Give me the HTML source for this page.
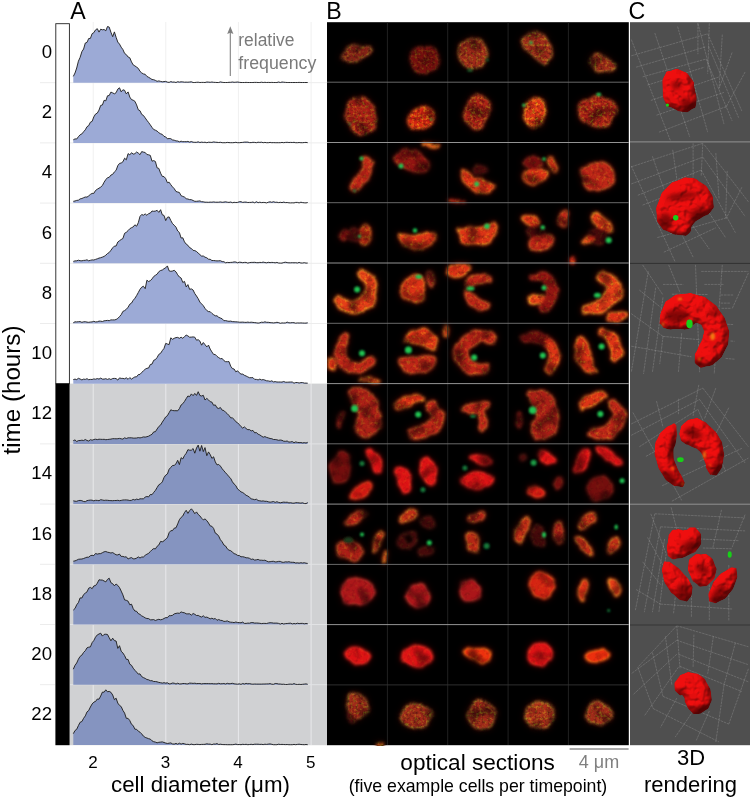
<!DOCTYPE html>
<html lang="en"><head><meta charset="utf-8"><title>Figure</title>
<style>html,body{margin:0;padding:0;background:#fff}body{width:750px;height:801px;position:relative;overflow:hidden;font-family:"Liberation Sans",Arial,sans-serif}</style>
</head><body>
<svg width="750" height="801" viewBox="0 0 750 801" style="position:absolute;left:0;top:0">
<defs><clipPath id="cc1_2"><rect x="387.4" y="142.5" width="60.4" height="60.3"/></clipPath>
<clipPath id="cc2_2"><rect x="447.7" y="142.5" width="60.4" height="60.3"/></clipPath>
<clipPath id="cc3_3"><rect x="508.1" y="202.7" width="60.4" height="60.3"/></clipPath>
<clipPath id="cc4_3"><rect x="568.4" y="202.7" width="60.4" height="60.3"/></clipPath>
<clipPath id="cc2_4"><rect x="447.7" y="263.0" width="60.4" height="60.3"/></clipPath>
<clipPath id="cc4_4"><rect x="568.4" y="263.0" width="60.4" height="60.3"/></clipPath>
<clipPath id="cc0_5"><rect x="327.0" y="323.3" width="60.4" height="60.3"/></clipPath>
<clipPath id="cc1_5"><rect x="387.4" y="323.3" width="60.4" height="60.3"/></clipPath>
<clipPath id="cc0_8"><rect x="327.0" y="504.1" width="60.4" height="60.3"/></clipPath>
<clipPath id="cc0_11"><rect x="327.0" y="684.9" width="60.4" height="60.3"/></clipPath>
<clipPath id="panelB"><rect x="327" y="22" width="301.8" height="723.2"/></clipPath>
<filter id="fxhi" x="327" y="22" width="302" height="724" filterUnits="userSpaceOnUse" color-interpolation-filters="sRGB">
<feTurbulence type="fractalNoise" baseFrequency="0.07" numOctaves="2" seed="11" result="w"/>
<feDisplacementMap in="SourceGraphic" in2="w" scale="7" xChannelSelector="R" yChannelSelector="G" result="sg"/>
<feGaussianBlur in="sg" stdDeviation="1.4" result="b"/>
<feGaussianBlur in="sg" stdDeviation="3.4" result="halo0"/>
<feColorMatrix in="halo0" type="matrix" values="0.7 0 0 0 0  0 0.12 0 0 0  0 0 0.1 0 0  0 0 0 0.75 0" result="halo"/>
<feGaussianBlur in="sg" stdDeviation="1.9" result="a2"/>
<feComponentTransfer in="a2" result="inner"><feFuncA type="linear" slope="3.0" intercept="-1.6"/></feComponentTransfer>
<feColorMatrix in="b" type="matrix" values="0.95 0 0 0 0  0 0.45 0 0 0  0 0 0.6 0 0  0 0 0 1 0" result="core"/>
<feComposite in="core" in2="inner" operator="in" result="coreIn"/>
<feMerge result="m"><feMergeNode in="halo"/><feMergeNode in="b"/><feMergeNode in="coreIn"/></feMerge>
<feTurbulence type="fractalNoise" baseFrequency="0.34" numOctaves="2" seed="3" result="n"/>
<feColorMatrix in="n" type="matrix" values="0.90 0 0 0 0.50  0.90 0 0 0 0.50  0.90 0 0 0 0.50  0 0 0 0 1" result="lum"/>
<feComposite in="m" in2="lum" operator="arithmetic" k1="1" k2="0" k3="0" k4="0" result="ml0"/>
<feTurbulence type="fractalNoise" baseFrequency="0.075" numOctaves="1" seed="21" result="n2"/>
<feColorMatrix in="n2" type="matrix" values="1.9 0 0 0 0.0  1.9 0 0 0 -0.08  1.9 0 0 0 0  0 0 0 0 1" result="lum2"/>
<feComposite in="ml0" in2="lum2" operator="arithmetic" k1="1" k2="0" k3="0" k4="0" result="ml"/>
<feColorMatrix in="b" type="matrix" values="1 0 0 0 0  1 0 0 0 0  1 0 0 0 0  0 0 0 1 0" result="bR"/>
<feColorMatrix in="n" type="matrix" values="0 0.33 0 0 -0.16  0 1.10 0 0 -0.52  0 0 0 0 0  0 0 0 0 1" result="spk"/>
<feComposite in="bR" in2="spk" operator="arithmetic" k1="1" k2="0" k3="0" k4="0" result="spkb"/>
<feComposite in="ml" in2="spkb" operator="arithmetic" k1="0" k2="1" k3="1" k4="0" result="sum"/>
<feGaussianBlur in="sum" stdDeviation="0.45"/>
</filter>
<filter id="fxlo" x="327" y="22" width="302" height="724" filterUnits="userSpaceOnUse" color-interpolation-filters="sRGB">
<feTurbulence type="fractalNoise" baseFrequency="0.07" numOctaves="2" seed="11" result="w"/>
<feDisplacementMap in="SourceGraphic" in2="w" scale="7" xChannelSelector="R" yChannelSelector="G" result="sg"/>
<feGaussianBlur in="sg" stdDeviation="1.4" result="b"/>
<feGaussianBlur in="sg" stdDeviation="3.4" result="halo0"/>
<feColorMatrix in="halo0" type="matrix" values="0.7 0 0 0 0  0 0.12 0 0 0  0 0 0.1 0 0  0 0 0 0.75 0" result="halo"/>
<feGaussianBlur in="sg" stdDeviation="1.9" result="a2"/>
<feComponentTransfer in="a2" result="inner"><feFuncA type="linear" slope="3.0" intercept="-1.6"/></feComponentTransfer>
<feColorMatrix in="b" type="matrix" values="0.95 0 0 0 0  0 0.45 0 0 0  0 0 0.6 0 0  0 0 0 1 0" result="core"/>
<feComposite in="core" in2="inner" operator="in" result="coreIn"/>
<feMerge result="m"><feMergeNode in="halo"/><feMergeNode in="b"/><feMergeNode in="coreIn"/></feMerge>
<feTurbulence type="fractalNoise" baseFrequency="0.28" numOctaves="2" seed="7" result="n"/>
<feColorMatrix in="n" type="matrix" values="0.60 0 0 0 0.68  0.60 0 0 0 0.68  0.60 0 0 0 0.68  0 0 0 0 1" result="lum"/>
<feComposite in="m" in2="lum" operator="arithmetic" k1="1" k2="0" k3="0" k4="0" result="ml0"/>
<feTurbulence type="fractalNoise" baseFrequency="0.075" numOctaves="1" seed="21" result="n2"/>
<feColorMatrix in="n2" type="matrix" values="1.9 0 0 0 0.0  1.9 0 0 0 -0.08  1.9 0 0 0 0  0 0 0 0 1" result="lum2"/>
<feComposite in="ml0" in2="lum2" operator="arithmetic" k1="1" k2="0" k3="0" k4="0" result="ml"/>
<feColorMatrix in="b" type="matrix" values="1 0 0 0 0  1 0 0 0 0  1 0 0 0 0  0 0 0 1 0" result="bR"/>
<feColorMatrix in="n" type="matrix" values="0 0.21 0 0 -0.11  0 0.70 0 0 -0.36  0 0 0 0 0  0 0 0 0 1" result="spk"/>
<feComposite in="bR" in2="spk" operator="arithmetic" k1="1" k2="0" k3="0" k4="0" result="spkb"/>
<feComposite in="ml" in2="spkb" operator="arithmetic" k1="0" k2="1" k3="1" k4="0" result="sum"/>
<feGaussianBlur in="sum" stdDeviation="0.45"/>
</filter>
<filter id="fxsm" x="327" y="22" width="302" height="724" filterUnits="userSpaceOnUse" color-interpolation-filters="sRGB">
<feTurbulence type="fractalNoise" baseFrequency="0.07" numOctaves="2" seed="11" result="w"/>
<feDisplacementMap in="SourceGraphic" in2="w" scale="7" xChannelSelector="R" yChannelSelector="G" result="sg"/>
<feGaussianBlur in="sg" stdDeviation="1.4" result="b"/>
<feGaussianBlur in="sg" stdDeviation="3.4" result="halo0"/>
<feColorMatrix in="halo0" type="matrix" values="0.7 0 0 0 0  0 0.12 0 0 0  0 0 0.1 0 0  0 0 0 0.75 0" result="halo"/>
<feGaussianBlur in="sg" stdDeviation="1.9" result="a2"/>
<feComponentTransfer in="a2" result="inner"><feFuncA type="linear" slope="3.0" intercept="-1.6"/></feComponentTransfer>
<feColorMatrix in="b" type="matrix" values="0.95 0 0 0 0  0 0.45 0 0 0  0 0 0.6 0 0  0 0 0 1 0" result="core"/>
<feComposite in="core" in2="inner" operator="in" result="coreIn"/>
<feMerge result="m"><feMergeNode in="halo"/><feMergeNode in="b"/><feMergeNode in="coreIn"/></feMerge>
<feTurbulence type="fractalNoise" baseFrequency="0.25" numOctaves="2" seed="9" result="n"/>
<feColorMatrix in="n" type="matrix" values="0.40 0 0 0 0.80  0.40 0 0 0 0.80  0.40 0 0 0 0.80  0 0 0 0 1" result="lum"/>
<feComposite in="m" in2="lum" operator="arithmetic" k1="1" k2="0" k3="0" k4="0" result="ml0"/>
<feTurbulence type="fractalNoise" baseFrequency="0.075" numOctaves="1" seed="21" result="n2"/>
<feColorMatrix in="n2" type="matrix" values="1.9 0 0 0 0.0  1.9 0 0 0 -0.08  1.9 0 0 0 0  0 0 0 0 1" result="lum2"/>
<feComposite in="ml0" in2="lum2" operator="arithmetic" k1="1" k2="0" k3="0" k4="0" result="ml"/>
<feColorMatrix in="b" type="matrix" values="1 0 0 0 0  1 0 0 0 0  1 0 0 0 0  0 0 0 1 0" result="bR"/>
<feColorMatrix in="n" type="matrix" values="0 0.07 0 0 -0.04  0 0.25 0 0 -0.13  0 0 0 0 0  0 0 0 0 1" result="spk"/>
<feComposite in="bR" in2="spk" operator="arithmetic" k1="1" k2="0" k3="0" k4="0" result="spkb"/>
<feComposite in="ml" in2="spkb" operator="arithmetic" k1="0" k2="1" k3="1" k4="0" result="sum"/>
<feGaussianBlur in="sum" stdDeviation="0.45"/>
</filter>
<filter id="gblur" x="327" y="22" width="302" height="724" filterUnits="userSpaceOnUse"><feGaussianBlur stdDeviation="0.85"/></filter><clipPath id="panelC"><rect x="630" y="22" width="120" height="723.2"/></clipPath>
<filter id="f3d" x="630" y="22" width="120" height="724" filterUnits="userSpaceOnUse" color-interpolation-filters="sRGB">
<feTurbulence type="fractalNoise" baseFrequency="0.13" numOctaves="2" seed="4" result="t"/>
<feGaussianBlur in="SourceAlpha" stdDeviation="3.2" result="ba"/>
<feComposite in="ba" in2="t" operator="arithmetic" k1="0.55" k2="0.7" k3="0" k4="0" result="h0"/>
<feGaussianBlur in="h0" stdDeviation="0.7" result="h"/>
<feDiffuseLighting in="h" surfaceScale="6" diffuseConstant="1.2" lighting-color="#ffffff" result="lit"><feDistantLight azimuth="235" elevation="50"/></feDiffuseLighting>
<feComposite in="lit" in2="SourceGraphic" operator="arithmetic" k1="0.62" k2="0" k3="0.42" k4="0" result="sh"/>
<feComposite in="sh" in2="SourceAlpha" operator="in"/>
</filter>
<filter id="db" x="630" y="22" width="120" height="724" filterUnits="userSpaceOnUse"><feGaussianBlur stdDeviation="2"/></filter>
<filter id="yb" x="630" y="22" width="120" height="724" filterUnits="userSpaceOnUse"><feGaussianBlur stdDeviation="1.1"/></filter></defs>
<rect width="750" height="801" fill="#fff"/>
<rect x="69.5" y="383.6" width="258" height="361.6" fill="#d0d1d3"/>
<line x1="93.2" y1="22" x2="93.2" y2="383.6" stroke="#f0f0f0" stroke-width="1"/>
<line x1="93.2" y1="383.6" x2="93.2" y2="745" stroke="#e8e9eb" stroke-width="1"/>
<line x1="165.8" y1="22" x2="165.8" y2="383.6" stroke="#f0f0f0" stroke-width="1"/>
<line x1="165.8" y1="383.6" x2="165.8" y2="745" stroke="#e8e9eb" stroke-width="1"/>
<line x1="238.4" y1="22" x2="238.4" y2="383.6" stroke="#f0f0f0" stroke-width="1"/>
<line x1="238.4" y1="383.6" x2="238.4" y2="745" stroke="#e8e9eb" stroke-width="1"/>
<line x1="311.1" y1="22" x2="311.1" y2="383.6" stroke="#f0f0f0" stroke-width="1"/>
<line x1="311.1" y1="383.6" x2="311.1" y2="745" stroke="#e8e9eb" stroke-width="1"/>
<line x1="40" y1="82.7" x2="327" y2="82.7" stroke="#ececec" stroke-width="1"/>
<line x1="40" y1="142.9" x2="327" y2="142.9" stroke="#ececec" stroke-width="1"/>
<line x1="40" y1="203.1" x2="327" y2="203.1" stroke="#ececec" stroke-width="1"/>
<line x1="40" y1="263.3" x2="327" y2="263.3" stroke="#ececec" stroke-width="1"/>
<line x1="40" y1="323.5" x2="327" y2="323.5" stroke="#ececec" stroke-width="1"/>
<line x1="40" y1="443.9" x2="55" y2="443.9" stroke="#ececec" stroke-width="1"/>
<line x1="70" y1="443.9" x2="327" y2="443.9" stroke="#e2e3e5" stroke-width="1"/>
<line x1="40" y1="504.1" x2="55" y2="504.1" stroke="#ececec" stroke-width="1"/>
<line x1="70" y1="504.1" x2="327" y2="504.1" stroke="#e2e3e5" stroke-width="1"/>
<line x1="40" y1="564.3" x2="55" y2="564.3" stroke="#ececec" stroke-width="1"/>
<line x1="70" y1="564.3" x2="327" y2="564.3" stroke="#e2e3e5" stroke-width="1"/>
<line x1="40" y1="624.5" x2="55" y2="624.5" stroke="#ececec" stroke-width="1"/>
<line x1="70" y1="624.5" x2="327" y2="624.5" stroke="#e2e3e5" stroke-width="1"/>
<line x1="40" y1="684.7" x2="55" y2="684.7" stroke="#ececec" stroke-width="1"/>
<line x1="70" y1="684.7" x2="327" y2="684.7" stroke="#e2e3e5" stroke-width="1"/>
<path d="M73.3,76.4 L75.0,73.0 L76.7,68.0 L78.4,61.2 L80.1,57.4 L81.9,51.6 L83.6,49.0 L85.3,43.0 L87.0,42.4 L88.7,38.5 L90.4,38.4 L92.1,33.7 L93.8,32.7 L95.5,29.9 L97.3,28.7 L99.0,32.1 L100.7,29.2 L102.4,29.8 L104.1,29.5 L105.8,30.8 L107.5,26.5 L109.2,27.1 L110.9,32.2 L112.7,36.7 L114.4,31.9 L116.1,37.3 L117.8,42.1 L119.5,44.1 L121.2,47.2 L122.9,49.5 L124.6,53.4 L126.3,54.6 L128.1,57.0 L129.8,57.8 L131.5,61.9 L133.2,64.9 L134.9,65.9 L136.6,67.1 L138.3,68.4 L140.0,71.3 L141.7,72.9 L143.4,73.9 L145.2,74.3 L146.9,76.4 L148.6,77.3 L150.3,78.3 L152.0,79.5 L153.7,79.7 L155.4,80.4 L157.1,81.3 L158.8,80.9 L160.6,81.4 L162.3,81.8 L164.0,81.6 L165.7,81.4 L167.4,82.1 L169.1,82.4 L170.8,81.6 L172.5,82.1 L174.2,82.0 L176.0,82.5 L177.7,81.7 L179.4,82.1 L181.1,81.8 L182.8,81.9 L184.5,82.2 L186.2,82.1 L187.9,82.2 L189.6,82.0 L191.4,81.8 L193.1,82.5 L194.8,82.5 L196.5,82.3 L198.2,82.2 L199.9,82.5 L201.6,82.4 L203.3,82.4 L205.0,82.5 L206.8,82.0 L208.5,82.1 L210.2,82.3 L211.9,82.0 L213.6,82.3 L215.3,82.4 L217.0,82.5 L218.7,82.5 L220.4,81.9 L222.2,82.3 L223.9,82.5 L225.6,82.5 L227.3,82.5 L229.0,82.3 L230.7,82.3 L232.4,82.0 L234.1,82.3 L235.8,82.2 L237.6,82.0 L239.3,82.3 L241.0,82.5 L242.7,82.5 L244.4,82.5 L246.1,82.4 L247.8,82.5 L249.5,82.5 L251.2,82.5 L252.9,82.5 L254.7,82.4 L256.4,82.4 L258.1,82.5 L259.8,82.5 L261.5,82.2 L263.2,82.5 L264.9,82.3 L266.6,82.5 L268.3,82.4 L270.1,82.5 L271.8,82.4 L273.5,82.5 L275.2,82.5 L276.9,82.5 L278.6,82.0 L280.3,82.5 L282.0,82.0 L283.7,82.2 L285.5,82.4 L287.2,82.5 L288.9,82.5 L290.6,82.5 L292.3,82.5 L294.0,82.5 L295.7,82.5 L297.4,82.5 L299.1,82.4 L300.9,82.5 L302.6,82.5 L304.3,82.5 L306.0,82.5 L307.7,82.5 L307.7,82.7 L73.3,82.7 Z" fill="#9caad6"/>
<path d="M73.3,76.4 L75.0,73.0 L76.7,68.0 L78.4,61.2 L80.1,57.4 L81.9,51.6 L83.6,49.0 L85.3,43.0 L87.0,42.4 L88.7,38.5 L90.4,38.4 L92.1,33.7 L93.8,32.7 L95.5,29.9 L97.3,28.7 L99.0,32.1 L100.7,29.2 L102.4,29.8 L104.1,29.5 L105.8,30.8 L107.5,26.5 L109.2,27.1 L110.9,32.2 L112.7,36.7 L114.4,31.9 L116.1,37.3 L117.8,42.1 L119.5,44.1 L121.2,47.2 L122.9,49.5 L124.6,53.4 L126.3,54.6 L128.1,57.0 L129.8,57.8 L131.5,61.9 L133.2,64.9 L134.9,65.9 L136.6,67.1 L138.3,68.4 L140.0,71.3 L141.7,72.9 L143.4,73.9 L145.2,74.3 L146.9,76.4 L148.6,77.3 L150.3,78.3 L152.0,79.5 L153.7,79.7 L155.4,80.4 L157.1,81.3 L158.8,80.9 L160.6,81.4 L162.3,81.8 L164.0,81.6 L165.7,81.4 L167.4,82.1 L169.1,82.4 L170.8,81.6 L172.5,82.1 L174.2,82.0 L176.0,82.5 L177.7,81.7 L179.4,82.1 L181.1,81.8 L182.8,81.9 L184.5,82.2 L186.2,82.1 L187.9,82.2 L189.6,82.0 L191.4,81.8 L193.1,82.5 L194.8,82.5 L196.5,82.3 L198.2,82.2 L199.9,82.5 L201.6,82.4 L203.3,82.4 L205.0,82.5 L206.8,82.0 L208.5,82.1 L210.2,82.3 L211.9,82.0 L213.6,82.3 L215.3,82.4 L217.0,82.5 L218.7,82.5 L220.4,81.9 L222.2,82.3 L223.9,82.5 L225.6,82.5 L227.3,82.5 L229.0,82.3 L230.7,82.3 L232.4,82.0 L234.1,82.3 L235.8,82.2 L237.6,82.0 L239.3,82.3 L241.0,82.5 L242.7,82.5 L244.4,82.5 L246.1,82.4 L247.8,82.5 L249.5,82.5 L251.2,82.5 L252.9,82.5 L254.7,82.4 L256.4,82.4 L258.1,82.5 L259.8,82.5 L261.5,82.2 L263.2,82.5 L264.9,82.3 L266.6,82.5 L268.3,82.4 L270.1,82.5 L271.8,82.4 L273.5,82.5 L275.2,82.5 L276.9,82.5 L278.6,82.0 L280.3,82.5 L282.0,82.0 L283.7,82.2 L285.5,82.4 L287.2,82.5 L288.9,82.5 L290.6,82.5 L292.3,82.5 L294.0,82.5 L295.7,82.5 L297.4,82.5 L299.1,82.4 L300.9,82.5 L302.6,82.5 L304.3,82.5 L306.0,82.5 L307.7,82.5" fill="none" stroke="#1a1a1a" stroke-width="0.9" stroke-linejoin="round"/>
<path d="M73.3,139.8 L75.0,138.9 L76.7,139.0 L78.4,136.7 L80.1,134.8 L81.9,133.9 L83.6,131.7 L85.3,129.8 L87.0,126.7 L88.7,125.6 L90.4,122.2 L92.1,121.4 L93.8,116.9 L95.5,114.1 L97.3,113.1 L99.0,110.1 L100.7,105.4 L102.4,105.0 L104.1,100.3 L105.8,100.8 L107.5,95.8 L109.2,95.5 L110.9,92.1 L112.7,92.9 L114.4,93.8 L116.1,92.7 L117.8,89.1 L119.5,87.8 L121.2,91.8 L122.9,89.8 L124.6,90.3 L126.3,93.9 L128.1,91.9 L129.8,97.1 L131.5,99.6 L133.2,100.2 L134.9,101.3 L136.6,104.9 L138.3,109.8 L140.0,110.7 L141.7,114.4 L143.4,115.4 L145.2,117.9 L146.9,120.3 L148.6,122.5 L150.3,124.9 L152.0,127.4 L153.7,129.5 L155.4,130.2 L157.1,131.1 L158.8,132.7 L160.6,133.8 L162.3,134.4 L164.0,136.4 L165.7,136.9 L167.4,138.8 L169.1,138.5 L170.8,138.7 L172.5,139.9 L174.2,140.2 L176.0,140.9 L177.7,141.0 L179.4,141.8 L181.1,141.2 L182.8,141.7 L184.5,141.6 L186.2,141.7 L187.9,141.4 L189.6,142.1 L191.4,141.5 L193.1,142.2 L194.8,142.3 L196.5,142.3 L198.2,141.8 L199.9,142.5 L201.6,142.1 L203.3,142.4 L205.0,142.2 L206.8,142.7 L208.5,142.2 L210.2,142.3 L211.9,142.4 L213.6,141.9 L215.3,142.2 L217.0,142.3 L218.7,142.5 L220.4,142.3 L222.2,142.7 L223.9,142.7 L225.6,142.7 L227.3,142.4 L229.0,142.6 L230.7,142.7 L232.4,142.7 L234.1,142.6 L235.8,142.3 L237.6,142.7 L239.3,142.7 L241.0,142.5 L242.7,142.4 L244.4,142.1 L246.1,142.1 L247.8,142.1 L249.5,142.6 L251.2,142.6 L252.9,142.3 L254.7,142.4 L256.4,142.7 L258.1,142.2 L259.8,142.4 L261.5,142.2 L263.2,142.7 L264.9,142.4 L266.6,142.7 L268.3,142.7 L270.1,142.4 L271.8,142.7 L273.5,142.6 L275.2,142.7 L276.9,142.7 L278.6,142.7 L280.3,142.7 L282.0,142.4 L283.7,142.7 L285.5,142.4 L287.2,142.3 L288.9,142.5 L290.6,142.4 L292.3,142.5 L294.0,142.3 L295.7,142.7 L297.4,142.7 L299.1,142.5 L300.9,142.7 L302.6,142.7 L304.3,142.5 L306.0,142.4 L307.7,142.7 L307.7,142.9 L73.3,142.9 Z" fill="#9caad6"/>
<path d="M73.3,139.8 L75.0,138.9 L76.7,139.0 L78.4,136.7 L80.1,134.8 L81.9,133.9 L83.6,131.7 L85.3,129.8 L87.0,126.7 L88.7,125.6 L90.4,122.2 L92.1,121.4 L93.8,116.9 L95.5,114.1 L97.3,113.1 L99.0,110.1 L100.7,105.4 L102.4,105.0 L104.1,100.3 L105.8,100.8 L107.5,95.8 L109.2,95.5 L110.9,92.1 L112.7,92.9 L114.4,93.8 L116.1,92.7 L117.8,89.1 L119.5,87.8 L121.2,91.8 L122.9,89.8 L124.6,90.3 L126.3,93.9 L128.1,91.9 L129.8,97.1 L131.5,99.6 L133.2,100.2 L134.9,101.3 L136.6,104.9 L138.3,109.8 L140.0,110.7 L141.7,114.4 L143.4,115.4 L145.2,117.9 L146.9,120.3 L148.6,122.5 L150.3,124.9 L152.0,127.4 L153.7,129.5 L155.4,130.2 L157.1,131.1 L158.8,132.7 L160.6,133.8 L162.3,134.4 L164.0,136.4 L165.7,136.9 L167.4,138.8 L169.1,138.5 L170.8,138.7 L172.5,139.9 L174.2,140.2 L176.0,140.9 L177.7,141.0 L179.4,141.8 L181.1,141.2 L182.8,141.7 L184.5,141.6 L186.2,141.7 L187.9,141.4 L189.6,142.1 L191.4,141.5 L193.1,142.2 L194.8,142.3 L196.5,142.3 L198.2,141.8 L199.9,142.5 L201.6,142.1 L203.3,142.4 L205.0,142.2 L206.8,142.7 L208.5,142.2 L210.2,142.3 L211.9,142.4 L213.6,141.9 L215.3,142.2 L217.0,142.3 L218.7,142.5 L220.4,142.3 L222.2,142.7 L223.9,142.7 L225.6,142.7 L227.3,142.4 L229.0,142.6 L230.7,142.7 L232.4,142.7 L234.1,142.6 L235.8,142.3 L237.6,142.7 L239.3,142.7 L241.0,142.5 L242.7,142.4 L244.4,142.1 L246.1,142.1 L247.8,142.1 L249.5,142.6 L251.2,142.6 L252.9,142.3 L254.7,142.4 L256.4,142.7 L258.1,142.2 L259.8,142.4 L261.5,142.2 L263.2,142.7 L264.9,142.4 L266.6,142.7 L268.3,142.7 L270.1,142.4 L271.8,142.7 L273.5,142.6 L275.2,142.7 L276.9,142.7 L278.6,142.7 L280.3,142.7 L282.0,142.4 L283.7,142.7 L285.5,142.4 L287.2,142.3 L288.9,142.5 L290.6,142.4 L292.3,142.5 L294.0,142.3 L295.7,142.7 L297.4,142.7 L299.1,142.5 L300.9,142.7 L302.6,142.7 L304.3,142.5 L306.0,142.4 L307.7,142.7" fill="none" stroke="#1a1a1a" stroke-width="0.9" stroke-linejoin="round"/>
<path d="M73.3,201.3 L75.0,201.0 L76.7,200.4 L78.4,200.2 L80.1,198.9 L81.9,198.5 L83.6,197.7 L85.3,197.0 L87.0,197.1 L88.7,195.9 L90.4,194.4 L92.1,193.4 L93.8,193.4 L95.5,190.5 L97.3,189.2 L99.0,188.2 L100.7,187.1 L102.4,185.5 L104.1,182.2 L105.8,179.6 L107.5,177.7 L109.2,177.3 L110.9,175.1 L112.7,174.3 L114.4,171.9 L116.1,170.3 L117.8,165.6 L119.5,163.4 L121.2,163.0 L122.9,161.8 L124.6,158.2 L126.3,159.8 L128.1,153.6 L129.8,154.9 L131.5,152.7 L133.2,154.1 L134.9,153.7 L136.6,152.0 L138.3,153.1 L140.0,154.7 L141.7,151.6 L143.4,152.1 L145.2,152.5 L146.9,154.5 L148.6,154.8 L150.3,155.4 L152.0,161.2 L153.7,160.6 L155.4,161.5 L157.1,167.9 L158.8,168.4 L160.6,173.2 L162.3,176.4 L164.0,176.6 L165.7,178.6 L167.4,182.7 L169.1,182.2 L170.8,184.7 L172.5,186.9 L174.2,188.6 L176.0,191.5 L177.7,192.0 L179.4,192.5 L181.1,195.7 L182.8,196.4 L184.5,197.1 L186.2,198.7 L187.9,199.0 L189.6,199.6 L191.4,199.7 L193.1,200.5 L194.8,201.3 L196.5,201.3 L198.2,201.1 L199.9,200.9 L201.6,201.7 L203.3,201.8 L205.0,202.2 L206.8,202.2 L208.5,202.3 L210.2,202.1 L211.9,202.2 L213.6,201.9 L215.3,202.2 L217.0,202.2 L218.7,202.2 L220.4,201.9 L222.2,202.3 L223.9,202.1 L225.6,201.8 L227.3,202.2 L229.0,202.4 L230.7,202.0 L232.4,202.7 L234.1,202.3 L235.8,202.5 L237.6,202.4 L239.3,201.7 L241.0,201.7 L242.7,202.4 L244.4,202.1 L246.1,202.1 L247.8,202.5 L249.5,202.4 L251.2,202.4 L252.9,202.0 L254.7,202.8 L256.4,201.7 L258.1,202.7 L259.8,202.2 L261.5,202.6 L263.2,202.4 L264.9,202.5 L266.6,202.9 L268.3,202.2 L270.1,201.8 L271.8,202.3 L273.5,201.7 L275.2,202.3 L276.9,202.2 L278.6,202.6 L280.3,202.3 L282.0,202.6 L283.7,202.1 L285.5,202.6 L287.2,202.5 L288.9,202.8 L290.6,202.9 L292.3,202.8 L294.0,202.9 L295.7,202.4 L297.4,202.4 L299.1,202.9 L300.9,202.2 L302.6,202.6 L304.3,202.8 L306.0,202.9 L307.7,202.5 L307.7,203.1 L73.3,203.1 Z" fill="#9caad6"/>
<path d="M73.3,201.3 L75.0,201.0 L76.7,200.4 L78.4,200.2 L80.1,198.9 L81.9,198.5 L83.6,197.7 L85.3,197.0 L87.0,197.1 L88.7,195.9 L90.4,194.4 L92.1,193.4 L93.8,193.4 L95.5,190.5 L97.3,189.2 L99.0,188.2 L100.7,187.1 L102.4,185.5 L104.1,182.2 L105.8,179.6 L107.5,177.7 L109.2,177.3 L110.9,175.1 L112.7,174.3 L114.4,171.9 L116.1,170.3 L117.8,165.6 L119.5,163.4 L121.2,163.0 L122.9,161.8 L124.6,158.2 L126.3,159.8 L128.1,153.6 L129.8,154.9 L131.5,152.7 L133.2,154.1 L134.9,153.7 L136.6,152.0 L138.3,153.1 L140.0,154.7 L141.7,151.6 L143.4,152.1 L145.2,152.5 L146.9,154.5 L148.6,154.8 L150.3,155.4 L152.0,161.2 L153.7,160.6 L155.4,161.5 L157.1,167.9 L158.8,168.4 L160.6,173.2 L162.3,176.4 L164.0,176.6 L165.7,178.6 L167.4,182.7 L169.1,182.2 L170.8,184.7 L172.5,186.9 L174.2,188.6 L176.0,191.5 L177.7,192.0 L179.4,192.5 L181.1,195.7 L182.8,196.4 L184.5,197.1 L186.2,198.7 L187.9,199.0 L189.6,199.6 L191.4,199.7 L193.1,200.5 L194.8,201.3 L196.5,201.3 L198.2,201.1 L199.9,200.9 L201.6,201.7 L203.3,201.8 L205.0,202.2 L206.8,202.2 L208.5,202.3 L210.2,202.1 L211.9,202.2 L213.6,201.9 L215.3,202.2 L217.0,202.2 L218.7,202.2 L220.4,201.9 L222.2,202.3 L223.9,202.1 L225.6,201.8 L227.3,202.2 L229.0,202.4 L230.7,202.0 L232.4,202.7 L234.1,202.3 L235.8,202.5 L237.6,202.4 L239.3,201.7 L241.0,201.7 L242.7,202.4 L244.4,202.1 L246.1,202.1 L247.8,202.5 L249.5,202.4 L251.2,202.4 L252.9,202.0 L254.7,202.8 L256.4,201.7 L258.1,202.7 L259.8,202.2 L261.5,202.6 L263.2,202.4 L264.9,202.5 L266.6,202.9 L268.3,202.2 L270.1,201.8 L271.8,202.3 L273.5,201.7 L275.2,202.3 L276.9,202.2 L278.6,202.6 L280.3,202.3 L282.0,202.6 L283.7,202.1 L285.5,202.6 L287.2,202.5 L288.9,202.8 L290.6,202.9 L292.3,202.8 L294.0,202.9 L295.7,202.4 L297.4,202.4 L299.1,202.9 L300.9,202.2 L302.6,202.6 L304.3,202.8 L306.0,202.9 L307.7,202.5" fill="none" stroke="#1a1a1a" stroke-width="0.9" stroke-linejoin="round"/>
<path d="M73.3,261.4 L75.0,260.9 L76.7,260.8 L78.4,260.2 L80.1,260.7 L81.9,260.8 L83.6,260.4 L85.3,260.3 L87.0,259.8 L88.7,260.8 L90.4,260.3 L92.1,259.9 L93.8,260.0 L95.5,259.4 L97.3,258.8 L99.0,258.1 L100.7,257.7 L102.4,257.1 L104.1,256.4 L105.8,255.2 L107.5,253.5 L109.2,252.5 L110.9,250.3 L112.7,247.8 L114.4,246.1 L116.1,246.0 L117.8,242.0 L119.5,240.7 L121.2,239.5 L122.9,238.5 L124.6,233.3 L126.3,232.3 L128.1,230.6 L129.8,228.7 L131.5,227.7 L133.2,226.9 L134.9,224.8 L136.6,226.2 L138.3,222.7 L140.0,216.4 L141.7,214.5 L143.4,215.2 L145.2,213.9 L146.9,215.3 L148.6,213.6 L150.3,213.1 L152.0,211.0 L153.7,211.3 L155.4,211.1 L157.1,210.3 L158.8,212.4 L160.6,209.7 L162.3,214.8 L164.0,215.4 L165.7,220.6 L167.4,217.3 L169.1,216.9 L170.8,220.5 L172.5,223.6 L174.2,225.2 L176.0,227.2 L177.7,231.0 L179.4,232.5 L181.1,238.0 L182.8,237.8 L184.5,241.9 L186.2,244.1 L187.9,245.3 L189.6,247.6 L191.4,248.5 L193.1,250.4 L194.8,250.6 L196.5,251.5 L198.2,253.1 L199.9,254.6 L201.6,256.1 L203.3,256.0 L205.0,257.2 L206.8,257.8 L208.5,259.2 L210.2,259.3 L211.9,260.5 L213.6,260.5 L215.3,260.7 L217.0,260.9 L218.7,260.8 L220.4,260.7 L222.2,261.6 L223.9,261.7 L225.6,262.8 L227.3,262.4 L229.0,262.6 L230.7,262.4 L232.4,262.3 L234.1,261.9 L235.8,262.0 L237.6,262.8 L239.3,262.2 L241.0,262.3 L242.7,262.7 L244.4,262.4 L246.1,262.4 L247.8,263.1 L249.5,262.6 L251.2,262.4 L252.9,262.4 L254.7,262.3 L256.4,262.6 L258.1,262.7 L259.8,262.4 L261.5,262.5 L263.2,262.1 L264.9,262.5 L266.6,262.8 L268.3,262.3 L270.1,262.6 L271.8,262.4 L273.5,262.5 L275.2,262.8 L276.9,262.4 L278.6,263.0 L280.3,263.1 L282.0,263.1 L283.7,262.5 L285.5,262.2 L287.2,262.6 L288.9,262.8 L290.6,262.8 L292.3,262.7 L294.0,262.8 L295.7,262.7 L297.4,263.0 L299.1,262.4 L300.9,263.0 L302.6,263.0 L304.3,262.7 L306.0,263.1 L307.7,263.0 L307.7,263.3 L73.3,263.3 Z" fill="#9caad6"/>
<path d="M73.3,261.4 L75.0,260.9 L76.7,260.8 L78.4,260.2 L80.1,260.7 L81.9,260.8 L83.6,260.4 L85.3,260.3 L87.0,259.8 L88.7,260.8 L90.4,260.3 L92.1,259.9 L93.8,260.0 L95.5,259.4 L97.3,258.8 L99.0,258.1 L100.7,257.7 L102.4,257.1 L104.1,256.4 L105.8,255.2 L107.5,253.5 L109.2,252.5 L110.9,250.3 L112.7,247.8 L114.4,246.1 L116.1,246.0 L117.8,242.0 L119.5,240.7 L121.2,239.5 L122.9,238.5 L124.6,233.3 L126.3,232.3 L128.1,230.6 L129.8,228.7 L131.5,227.7 L133.2,226.9 L134.9,224.8 L136.6,226.2 L138.3,222.7 L140.0,216.4 L141.7,214.5 L143.4,215.2 L145.2,213.9 L146.9,215.3 L148.6,213.6 L150.3,213.1 L152.0,211.0 L153.7,211.3 L155.4,211.1 L157.1,210.3 L158.8,212.4 L160.6,209.7 L162.3,214.8 L164.0,215.4 L165.7,220.6 L167.4,217.3 L169.1,216.9 L170.8,220.5 L172.5,223.6 L174.2,225.2 L176.0,227.2 L177.7,231.0 L179.4,232.5 L181.1,238.0 L182.8,237.8 L184.5,241.9 L186.2,244.1 L187.9,245.3 L189.6,247.6 L191.4,248.5 L193.1,250.4 L194.8,250.6 L196.5,251.5 L198.2,253.1 L199.9,254.6 L201.6,256.1 L203.3,256.0 L205.0,257.2 L206.8,257.8 L208.5,259.2 L210.2,259.3 L211.9,260.5 L213.6,260.5 L215.3,260.7 L217.0,260.9 L218.7,260.8 L220.4,260.7 L222.2,261.6 L223.9,261.7 L225.6,262.8 L227.3,262.4 L229.0,262.6 L230.7,262.4 L232.4,262.3 L234.1,261.9 L235.8,262.0 L237.6,262.8 L239.3,262.2 L241.0,262.3 L242.7,262.7 L244.4,262.4 L246.1,262.4 L247.8,263.1 L249.5,262.6 L251.2,262.4 L252.9,262.4 L254.7,262.3 L256.4,262.6 L258.1,262.7 L259.8,262.4 L261.5,262.5 L263.2,262.1 L264.9,262.5 L266.6,262.8 L268.3,262.3 L270.1,262.6 L271.8,262.4 L273.5,262.5 L275.2,262.8 L276.9,262.4 L278.6,263.0 L280.3,263.1 L282.0,263.1 L283.7,262.5 L285.5,262.2 L287.2,262.6 L288.9,262.8 L290.6,262.8 L292.3,262.7 L294.0,262.8 L295.7,262.7 L297.4,263.0 L299.1,262.4 L300.9,263.0 L302.6,263.0 L304.3,262.7 L306.0,263.1 L307.7,263.0" fill="none" stroke="#1a1a1a" stroke-width="0.9" stroke-linejoin="round"/>
<path d="M73.3,322.7 L75.0,321.8 L76.7,321.9 L78.4,321.7 L80.1,321.6 L81.9,322.3 L83.6,321.8 L85.3,321.7 L87.0,322.1 L88.7,322.3 L90.4,322.0 L92.1,321.9 L93.8,321.3 L95.5,321.9 L97.3,321.8 L99.0,321.1 L100.7,321.2 L102.4,321.5 L104.1,320.8 L105.8,320.6 L107.5,320.4 L109.2,320.7 L110.9,319.9 L112.7,319.9 L114.4,319.9 L116.1,319.5 L117.8,318.4 L119.5,316.6 L121.2,314.7 L122.9,311.4 L124.6,310.6 L126.3,309.3 L128.1,307.2 L129.8,304.2 L131.5,303.1 L133.2,300.3 L134.9,298.3 L136.6,295.6 L138.3,292.5 L140.0,289.3 L141.7,287.2 L143.4,286.2 L145.2,288.7 L146.9,280.2 L148.6,281.5 L150.3,280.7 L152.0,278.9 L153.7,276.5 L155.4,275.3 L157.1,274.2 L158.8,271.7 L160.6,270.5 L162.3,270.0 L164.0,268.7 L165.7,267.8 L167.4,265.9 L169.1,270.8 L170.8,271.3 L172.5,271.0 L174.2,270.3 L176.0,271.9 L177.7,274.8 L179.4,277.0 L181.1,278.0 L182.8,282.5 L184.5,281.4 L186.2,286.9 L187.9,284.6 L189.6,289.3 L191.4,288.9 L193.1,290.0 L194.8,293.6 L196.5,296.0 L198.2,298.7 L199.9,302.1 L201.6,303.9 L203.3,305.7 L205.0,308.4 L206.8,310.5 L208.5,311.6 L210.2,311.7 L211.9,313.4 L213.6,314.7 L215.3,315.8 L217.0,315.8 L218.7,317.3 L220.4,318.0 L222.2,318.8 L223.9,320.7 L225.6,320.6 L227.3,321.0 L229.0,321.3 L230.7,321.1 L232.4,321.6 L234.1,321.7 L235.8,321.8 L237.6,321.9 L239.3,322.2 L241.0,322.2 L242.7,322.1 L244.4,322.3 L246.1,322.4 L247.8,322.1 L249.5,322.4 L251.2,322.2 L252.9,322.4 L254.7,322.6 L256.4,322.8 L258.1,323.1 L259.8,322.8 L261.5,322.2 L263.2,322.4 L264.9,321.8 L266.6,322.3 L268.3,322.3 L270.1,322.6 L271.8,322.7 L273.5,322.9 L275.2,322.7 L276.9,322.3 L278.6,322.6 L280.3,323.3 L282.0,322.9 L283.7,323.0 L285.5,322.9 L287.2,322.1 L288.9,322.8 L290.6,322.8 L292.3,322.6 L294.0,322.7 L295.7,323.2 L297.4,322.9 L299.1,323.0 L300.9,322.9 L302.6,323.0 L304.3,323.1 L306.0,323.1 L307.7,322.8 L307.7,323.5 L73.3,323.5 Z" fill="#9caad6"/>
<path d="M73.3,322.7 L75.0,321.8 L76.7,321.9 L78.4,321.7 L80.1,321.6 L81.9,322.3 L83.6,321.8 L85.3,321.7 L87.0,322.1 L88.7,322.3 L90.4,322.0 L92.1,321.9 L93.8,321.3 L95.5,321.9 L97.3,321.8 L99.0,321.1 L100.7,321.2 L102.4,321.5 L104.1,320.8 L105.8,320.6 L107.5,320.4 L109.2,320.7 L110.9,319.9 L112.7,319.9 L114.4,319.9 L116.1,319.5 L117.8,318.4 L119.5,316.6 L121.2,314.7 L122.9,311.4 L124.6,310.6 L126.3,309.3 L128.1,307.2 L129.8,304.2 L131.5,303.1 L133.2,300.3 L134.9,298.3 L136.6,295.6 L138.3,292.5 L140.0,289.3 L141.7,287.2 L143.4,286.2 L145.2,288.7 L146.9,280.2 L148.6,281.5 L150.3,280.7 L152.0,278.9 L153.7,276.5 L155.4,275.3 L157.1,274.2 L158.8,271.7 L160.6,270.5 L162.3,270.0 L164.0,268.7 L165.7,267.8 L167.4,265.9 L169.1,270.8 L170.8,271.3 L172.5,271.0 L174.2,270.3 L176.0,271.9 L177.7,274.8 L179.4,277.0 L181.1,278.0 L182.8,282.5 L184.5,281.4 L186.2,286.9 L187.9,284.6 L189.6,289.3 L191.4,288.9 L193.1,290.0 L194.8,293.6 L196.5,296.0 L198.2,298.7 L199.9,302.1 L201.6,303.9 L203.3,305.7 L205.0,308.4 L206.8,310.5 L208.5,311.6 L210.2,311.7 L211.9,313.4 L213.6,314.7 L215.3,315.8 L217.0,315.8 L218.7,317.3 L220.4,318.0 L222.2,318.8 L223.9,320.7 L225.6,320.6 L227.3,321.0 L229.0,321.3 L230.7,321.1 L232.4,321.6 L234.1,321.7 L235.8,321.8 L237.6,321.9 L239.3,322.2 L241.0,322.2 L242.7,322.1 L244.4,322.3 L246.1,322.4 L247.8,322.1 L249.5,322.4 L251.2,322.2 L252.9,322.4 L254.7,322.6 L256.4,322.8 L258.1,323.1 L259.8,322.8 L261.5,322.2 L263.2,322.4 L264.9,321.8 L266.6,322.3 L268.3,322.3 L270.1,322.6 L271.8,322.7 L273.5,322.9 L275.2,322.7 L276.9,322.3 L278.6,322.6 L280.3,323.3 L282.0,322.9 L283.7,323.0 L285.5,322.9 L287.2,322.1 L288.9,322.8 L290.6,322.8 L292.3,322.6 L294.0,322.7 L295.7,323.2 L297.4,322.9 L299.1,323.0 L300.9,322.9 L302.6,323.0 L304.3,323.1 L306.0,323.1 L307.7,322.8" fill="none" stroke="#1a1a1a" stroke-width="0.9" stroke-linejoin="round"/>
<path d="M73.3,379.6 L75.0,379.1 L76.7,379.6 L78.4,378.3 L80.1,379.0 L81.9,379.9 L83.6,379.1 L85.3,379.4 L87.0,378.7 L88.7,379.7 L90.4,379.4 L92.1,379.5 L93.8,378.9 L95.5,379.2 L97.3,378.6 L99.0,379.1 L100.7,378.1 L102.4,379.1 L104.1,379.1 L105.8,378.7 L107.5,379.4 L109.2,378.7 L110.9,379.5 L112.7,378.5 L114.4,378.4 L116.1,378.6 L117.8,380.1 L119.5,377.9 L121.2,378.4 L122.9,378.4 L124.6,378.8 L126.3,377.8 L128.1,379.3 L129.8,377.6 L131.5,379.1 L133.2,377.9 L134.9,376.9 L136.6,376.8 L138.3,374.6 L140.0,374.4 L141.7,372.4 L143.4,370.9 L145.2,369.2 L146.9,368.3 L148.6,368.0 L150.3,364.5 L152.0,364.1 L153.7,360.3 L155.4,359.6 L157.1,357.5 L158.8,354.4 L160.6,353.3 L162.3,350.6 L164.0,348.4 L165.7,343.4 L167.4,344.0 L169.1,344.6 L170.8,337.8 L172.5,339.3 L174.2,338.3 L176.0,337.6 L177.7,337.4 L179.4,338.3 L181.1,337.2 L182.8,338.3 L184.5,336.6 L186.2,335.1 L187.9,335.9 L189.6,337.2 L191.4,337.1 L193.1,336.9 L194.8,337.2 L196.5,340.2 L198.2,339.7 L199.9,341.1 L201.6,345.2 L203.3,342.5 L205.0,344.6 L206.8,346.9 L208.5,345.1 L210.2,349.1 L211.9,351.9 L213.6,354.4 L215.3,354.5 L217.0,356.4 L218.7,357.6 L220.4,358.7 L222.2,358.5 L223.9,360.6 L225.6,361.7 L227.3,361.7 L229.0,361.6 L230.7,366.2 L232.4,368.6 L234.1,369.0 L235.8,371.8 L237.6,370.8 L239.3,372.8 L241.0,374.1 L242.7,374.1 L244.4,375.3 L246.1,376.0 L247.8,376.9 L249.5,377.7 L251.2,377.7 L252.9,377.6 L254.7,379.4 L256.4,379.4 L258.1,379.9 L259.8,379.1 L261.5,379.9 L263.2,379.6 L264.9,380.1 L266.6,380.8 L268.3,380.9 L270.1,381.4 L271.8,380.8 L273.5,381.9 L275.2,381.6 L276.9,382.0 L278.6,382.0 L280.3,382.0 L282.0,382.1 L283.7,381.5 L285.5,382.2 L287.2,382.2 L288.9,382.1 L290.6,382.0 L292.3,382.0 L294.0,383.2 L295.7,382.5 L297.4,382.5 L299.1,383.0 L300.9,382.6 L302.6,382.6 L304.3,383.1 L306.0,383.1 L307.7,383.2 L307.7,383.7 L73.3,383.7 Z" fill="#9caad6"/>
<path d="M73.3,379.6 L75.0,379.1 L76.7,379.6 L78.4,378.3 L80.1,379.0 L81.9,379.9 L83.6,379.1 L85.3,379.4 L87.0,378.7 L88.7,379.7 L90.4,379.4 L92.1,379.5 L93.8,378.9 L95.5,379.2 L97.3,378.6 L99.0,379.1 L100.7,378.1 L102.4,379.1 L104.1,379.1 L105.8,378.7 L107.5,379.4 L109.2,378.7 L110.9,379.5 L112.7,378.5 L114.4,378.4 L116.1,378.6 L117.8,380.1 L119.5,377.9 L121.2,378.4 L122.9,378.4 L124.6,378.8 L126.3,377.8 L128.1,379.3 L129.8,377.6 L131.5,379.1 L133.2,377.9 L134.9,376.9 L136.6,376.8 L138.3,374.6 L140.0,374.4 L141.7,372.4 L143.4,370.9 L145.2,369.2 L146.9,368.3 L148.6,368.0 L150.3,364.5 L152.0,364.1 L153.7,360.3 L155.4,359.6 L157.1,357.5 L158.8,354.4 L160.6,353.3 L162.3,350.6 L164.0,348.4 L165.7,343.4 L167.4,344.0 L169.1,344.6 L170.8,337.8 L172.5,339.3 L174.2,338.3 L176.0,337.6 L177.7,337.4 L179.4,338.3 L181.1,337.2 L182.8,338.3 L184.5,336.6 L186.2,335.1 L187.9,335.9 L189.6,337.2 L191.4,337.1 L193.1,336.9 L194.8,337.2 L196.5,340.2 L198.2,339.7 L199.9,341.1 L201.6,345.2 L203.3,342.5 L205.0,344.6 L206.8,346.9 L208.5,345.1 L210.2,349.1 L211.9,351.9 L213.6,354.4 L215.3,354.5 L217.0,356.4 L218.7,357.6 L220.4,358.7 L222.2,358.5 L223.9,360.6 L225.6,361.7 L227.3,361.7 L229.0,361.6 L230.7,366.2 L232.4,368.6 L234.1,369.0 L235.8,371.8 L237.6,370.8 L239.3,372.8 L241.0,374.1 L242.7,374.1 L244.4,375.3 L246.1,376.0 L247.8,376.9 L249.5,377.7 L251.2,377.7 L252.9,377.6 L254.7,379.4 L256.4,379.4 L258.1,379.9 L259.8,379.1 L261.5,379.9 L263.2,379.6 L264.9,380.1 L266.6,380.8 L268.3,380.9 L270.1,381.4 L271.8,380.8 L273.5,381.9 L275.2,381.6 L276.9,382.0 L278.6,382.0 L280.3,382.0 L282.0,382.1 L283.7,381.5 L285.5,382.2 L287.2,382.2 L288.9,382.1 L290.6,382.0 L292.3,382.0 L294.0,383.2 L295.7,382.5 L297.4,382.5 L299.1,383.0 L300.9,382.6 L302.6,382.6 L304.3,383.1 L306.0,383.1 L307.7,383.2" fill="none" stroke="#1a1a1a" stroke-width="0.9" stroke-linejoin="round"/>
<path d="M73.3,440.6 L75.0,439.9 L76.7,441.5 L78.4,440.6 L80.1,440.5 L81.9,440.2 L83.6,440.5 L85.3,439.5 L87.0,440.5 L88.7,441.0 L90.4,439.7 L92.1,440.2 L93.8,439.5 L95.5,439.2 L97.3,439.6 L99.0,439.2 L100.7,439.3 L102.4,439.4 L104.1,439.3 L105.8,439.7 L107.5,439.5 L109.2,439.3 L110.9,439.1 L112.7,438.7 L114.4,438.7 L116.1,438.8 L117.8,438.7 L119.5,438.4 L121.2,438.8 L122.9,439.1 L124.6,437.8 L126.3,438.5 L128.1,437.8 L129.8,437.8 L131.5,437.8 L133.2,438.1 L134.9,438.1 L136.6,438.0 L138.3,437.6 L140.0,437.9 L141.7,437.5 L143.4,436.9 L145.2,437.1 L146.9,436.7 L148.6,436.2 L150.3,435.2 L152.0,434.3 L153.7,431.9 L155.4,431.7 L157.1,429.0 L158.8,426.5 L160.6,425.1 L162.3,422.1 L164.0,419.6 L165.7,416.9 L167.4,415.7 L169.1,412.7 L170.8,409.8 L172.5,410.5 L174.2,410.7 L176.0,410.7 L177.7,410.8 L179.4,408.6 L181.1,405.0 L182.8,403.7 L184.5,401.4 L186.2,398.6 L187.9,396.0 L189.6,396.6 L191.4,393.9 L193.1,395.7 L194.8,393.4 L196.5,395.4 L198.2,391.7 L199.9,395.5 L201.6,396.0 L203.3,395.3 L205.0,400.0 L206.8,398.4 L208.5,399.9 L210.2,401.7 L211.9,402.1 L213.6,405.3 L215.3,404.9 L217.0,407.8 L218.7,408.5 L220.4,407.5 L222.2,410.2 L223.9,410.5 L225.6,412.3 L227.3,413.7 L229.0,415.5 L230.7,417.8 L232.4,417.9 L234.1,419.4 L235.8,421.7 L237.6,422.8 L239.3,424.5 L241.0,426.6 L242.7,428.1 L244.4,426.9 L246.1,428.5 L247.8,429.7 L249.5,429.6 L251.2,430.9 L252.9,430.4 L254.7,432.8 L256.4,432.6 L258.1,434.2 L259.8,434.9 L261.5,436.1 L263.2,437.2 L264.9,436.6 L266.6,437.4 L268.3,437.9 L270.1,438.5 L271.8,438.7 L273.5,439.5 L275.2,439.5 L276.9,439.8 L278.6,440.3 L280.3,440.0 L282.0,440.3 L283.7,441.2 L285.5,441.3 L287.2,441.0 L288.9,442.1 L290.6,441.9 L292.3,441.6 L294.0,442.7 L295.7,441.9 L297.4,442.4 L299.1,442.6 L300.9,442.5 L302.6,442.9 L304.3,442.6 L306.0,443.0 L307.7,442.3 L307.7,443.9 L73.3,443.9 Z" fill="#8594c0"/>
<path d="M73.3,440.6 L75.0,439.9 L76.7,441.5 L78.4,440.6 L80.1,440.5 L81.9,440.2 L83.6,440.5 L85.3,439.5 L87.0,440.5 L88.7,441.0 L90.4,439.7 L92.1,440.2 L93.8,439.5 L95.5,439.2 L97.3,439.6 L99.0,439.2 L100.7,439.3 L102.4,439.4 L104.1,439.3 L105.8,439.7 L107.5,439.5 L109.2,439.3 L110.9,439.1 L112.7,438.7 L114.4,438.7 L116.1,438.8 L117.8,438.7 L119.5,438.4 L121.2,438.8 L122.9,439.1 L124.6,437.8 L126.3,438.5 L128.1,437.8 L129.8,437.8 L131.5,437.8 L133.2,438.1 L134.9,438.1 L136.6,438.0 L138.3,437.6 L140.0,437.9 L141.7,437.5 L143.4,436.9 L145.2,437.1 L146.9,436.7 L148.6,436.2 L150.3,435.2 L152.0,434.3 L153.7,431.9 L155.4,431.7 L157.1,429.0 L158.8,426.5 L160.6,425.1 L162.3,422.1 L164.0,419.6 L165.7,416.9 L167.4,415.7 L169.1,412.7 L170.8,409.8 L172.5,410.5 L174.2,410.7 L176.0,410.7 L177.7,410.8 L179.4,408.6 L181.1,405.0 L182.8,403.7 L184.5,401.4 L186.2,398.6 L187.9,396.0 L189.6,396.6 L191.4,393.9 L193.1,395.7 L194.8,393.4 L196.5,395.4 L198.2,391.7 L199.9,395.5 L201.6,396.0 L203.3,395.3 L205.0,400.0 L206.8,398.4 L208.5,399.9 L210.2,401.7 L211.9,402.1 L213.6,405.3 L215.3,404.9 L217.0,407.8 L218.7,408.5 L220.4,407.5 L222.2,410.2 L223.9,410.5 L225.6,412.3 L227.3,413.7 L229.0,415.5 L230.7,417.8 L232.4,417.9 L234.1,419.4 L235.8,421.7 L237.6,422.8 L239.3,424.5 L241.0,426.6 L242.7,428.1 L244.4,426.9 L246.1,428.5 L247.8,429.7 L249.5,429.6 L251.2,430.9 L252.9,430.4 L254.7,432.8 L256.4,432.6 L258.1,434.2 L259.8,434.9 L261.5,436.1 L263.2,437.2 L264.9,436.6 L266.6,437.4 L268.3,437.9 L270.1,438.5 L271.8,438.7 L273.5,439.5 L275.2,439.5 L276.9,439.8 L278.6,440.3 L280.3,440.0 L282.0,440.3 L283.7,441.2 L285.5,441.3 L287.2,441.0 L288.9,442.1 L290.6,441.9 L292.3,441.6 L294.0,442.7 L295.7,441.9 L297.4,442.4 L299.1,442.6 L300.9,442.5 L302.6,442.9 L304.3,442.6 L306.0,443.0 L307.7,442.3" fill="none" stroke="#1a1a1a" stroke-width="0.9" stroke-linejoin="round"/>
<path d="M73.3,500.8 L75.0,501.2 L76.7,501.3 L78.4,500.6 L80.1,500.4 L81.9,500.7 L83.6,501.5 L85.3,501.7 L87.0,500.6 L88.7,500.3 L90.4,500.1 L92.1,500.2 L93.8,500.8 L95.5,500.3 L97.3,500.4 L99.0,500.7 L100.7,499.7 L102.4,500.0 L104.1,500.4 L105.8,500.2 L107.5,500.3 L109.2,500.5 L110.9,500.6 L112.7,500.7 L114.4,500.5 L116.1,500.5 L117.8,500.3 L119.5,500.7 L121.2,500.4 L122.9,500.0 L124.6,499.9 L126.3,499.9 L128.1,500.1 L129.8,500.5 L131.5,500.3 L133.2,499.4 L134.9,500.0 L136.6,499.1 L138.3,499.6 L140.0,498.8 L141.7,498.8 L143.4,498.8 L145.2,497.1 L146.9,496.5 L148.6,496.9 L150.3,494.5 L152.0,494.7 L153.7,492.4 L155.4,490.4 L157.1,487.5 L158.8,484.8 L160.6,483.7 L162.3,481.9 L164.0,477.5 L165.7,475.1 L167.4,474.0 L169.1,469.3 L170.8,467.4 L172.5,465.5 L174.2,465.4 L176.0,463.8 L177.7,460.3 L179.4,464.6 L181.1,457.7 L182.8,458.9 L184.5,455.5 L186.2,453.3 L187.9,449.7 L189.6,450.2 L191.4,450.2 L193.1,448.5 L194.8,453.2 L196.5,448.0 L198.2,445.1 L199.9,451.2 L201.6,445.5 L203.3,451.6 L205.0,447.6 L206.8,455.7 L208.5,451.9 L210.2,454.5 L211.9,458.4 L213.6,456.8 L215.3,461.9 L217.0,464.9 L218.7,464.4 L220.4,466.1 L222.2,468.8 L223.9,470.8 L225.6,472.8 L227.3,474.6 L229.0,476.8 L230.7,478.4 L232.4,481.8 L234.1,484.0 L235.8,485.6 L237.6,489.0 L239.3,490.3 L241.0,491.9 L242.7,492.5 L244.4,493.8 L246.1,495.3 L247.8,496.0 L249.5,497.3 L251.2,498.8 L252.9,499.2 L254.7,499.7 L256.4,499.2 L258.1,500.5 L259.8,500.8 L261.5,501.1 L263.2,500.9 L264.9,501.3 L266.6,501.3 L268.3,501.8 L270.1,502.2 L271.8,501.9 L273.5,501.5 L275.2,502.4 L276.9,501.7 L278.6,502.4 L280.3,502.8 L282.0,502.4 L283.7,502.1 L285.5,502.3 L287.2,502.2 L288.9,502.9 L290.6,502.7 L292.3,503.1 L294.0,503.2 L295.7,502.7 L297.4,502.7 L299.1,502.9 L300.9,503.1 L302.6,502.8 L304.3,503.5 L306.0,503.6 L307.7,502.6 L307.7,504.1 L73.3,504.1 Z" fill="#8594c0"/>
<path d="M73.3,500.8 L75.0,501.2 L76.7,501.3 L78.4,500.6 L80.1,500.4 L81.9,500.7 L83.6,501.5 L85.3,501.7 L87.0,500.6 L88.7,500.3 L90.4,500.1 L92.1,500.2 L93.8,500.8 L95.5,500.3 L97.3,500.4 L99.0,500.7 L100.7,499.7 L102.4,500.0 L104.1,500.4 L105.8,500.2 L107.5,500.3 L109.2,500.5 L110.9,500.6 L112.7,500.7 L114.4,500.5 L116.1,500.5 L117.8,500.3 L119.5,500.7 L121.2,500.4 L122.9,500.0 L124.6,499.9 L126.3,499.9 L128.1,500.1 L129.8,500.5 L131.5,500.3 L133.2,499.4 L134.9,500.0 L136.6,499.1 L138.3,499.6 L140.0,498.8 L141.7,498.8 L143.4,498.8 L145.2,497.1 L146.9,496.5 L148.6,496.9 L150.3,494.5 L152.0,494.7 L153.7,492.4 L155.4,490.4 L157.1,487.5 L158.8,484.8 L160.6,483.7 L162.3,481.9 L164.0,477.5 L165.7,475.1 L167.4,474.0 L169.1,469.3 L170.8,467.4 L172.5,465.5 L174.2,465.4 L176.0,463.8 L177.7,460.3 L179.4,464.6 L181.1,457.7 L182.8,458.9 L184.5,455.5 L186.2,453.3 L187.9,449.7 L189.6,450.2 L191.4,450.2 L193.1,448.5 L194.8,453.2 L196.5,448.0 L198.2,445.1 L199.9,451.2 L201.6,445.5 L203.3,451.6 L205.0,447.6 L206.8,455.7 L208.5,451.9 L210.2,454.5 L211.9,458.4 L213.6,456.8 L215.3,461.9 L217.0,464.9 L218.7,464.4 L220.4,466.1 L222.2,468.8 L223.9,470.8 L225.6,472.8 L227.3,474.6 L229.0,476.8 L230.7,478.4 L232.4,481.8 L234.1,484.0 L235.8,485.6 L237.6,489.0 L239.3,490.3 L241.0,491.9 L242.7,492.5 L244.4,493.8 L246.1,495.3 L247.8,496.0 L249.5,497.3 L251.2,498.8 L252.9,499.2 L254.7,499.7 L256.4,499.2 L258.1,500.5 L259.8,500.8 L261.5,501.1 L263.2,500.9 L264.9,501.3 L266.6,501.3 L268.3,501.8 L270.1,502.2 L271.8,501.9 L273.5,501.5 L275.2,502.4 L276.9,501.7 L278.6,502.4 L280.3,502.8 L282.0,502.4 L283.7,502.1 L285.5,502.3 L287.2,502.2 L288.9,502.9 L290.6,502.7 L292.3,503.1 L294.0,503.2 L295.7,502.7 L297.4,502.7 L299.1,502.9 L300.9,503.1 L302.6,502.8 L304.3,503.5 L306.0,503.6 L307.7,502.6" fill="none" stroke="#1a1a1a" stroke-width="0.9" stroke-linejoin="round"/>
<path d="M73.3,561.2 L75.0,560.9 L76.7,560.2 L78.4,559.3 L80.1,559.1 L81.9,559.0 L83.6,558.5 L85.3,557.8 L87.0,557.2 L88.7,557.2 L90.4,555.7 L92.1,555.3 L93.8,555.6 L95.5,553.5 L97.3,554.1 L99.0,553.7 L100.7,553.6 L102.4,552.7 L104.1,551.8 L105.8,551.5 L107.5,552.2 L109.2,552.5 L110.9,553.0 L112.7,552.6 L114.4,553.7 L116.1,554.8 L117.8,554.9 L119.5,554.1 L121.2,556.4 L122.9,556.4 L124.6,557.0 L126.3,556.8 L128.1,559.0 L129.8,558.1 L131.5,557.6 L133.2,558.8 L134.9,558.8 L136.6,558.1 L138.3,556.9 L140.0,558.0 L141.7,557.0 L143.4,557.0 L145.2,555.3 L146.9,554.2 L148.6,553.4 L150.3,551.5 L152.0,549.8 L153.7,548.6 L155.4,548.9 L157.1,546.3 L158.8,545.0 L160.6,541.4 L162.3,541.8 L164.0,540.9 L165.7,539.0 L167.4,537.7 L169.1,532.7 L170.8,530.7 L172.5,530.6 L174.2,528.2 L176.0,527.8 L177.7,523.9 L179.4,519.7 L181.1,517.4 L182.8,516.0 L184.5,512.5 L186.2,510.3 L187.9,513.4 L189.6,510.7 L191.4,508.8 L193.1,510.9 L194.8,513.7 L196.5,511.9 L198.2,514.4 L199.9,515.9 L201.6,518.2 L203.3,519.9 L205.0,518.9 L206.8,520.6 L208.5,523.0 L210.2,525.9 L211.9,526.3 L213.6,528.4 L215.3,533.1 L217.0,534.1 L218.7,536.1 L220.4,539.7 L222.2,541.9 L223.9,545.0 L225.6,546.0 L227.3,548.8 L229.0,550.2 L230.7,550.7 L232.4,552.1 L234.1,553.6 L235.8,554.2 L237.6,555.4 L239.3,555.5 L241.0,556.8 L242.7,556.7 L244.4,557.1 L246.1,557.8 L247.8,557.8 L249.5,558.3 L251.2,559.4 L252.9,559.0 L254.7,560.1 L256.4,559.8 L258.1,559.4 L259.8,560.2 L261.5,560.2 L263.2,560.4 L264.9,560.2 L266.6,561.0 L268.3,561.8 L270.1,561.7 L271.8,561.4 L273.5,561.3 L275.2,561.9 L276.9,561.8 L278.6,561.4 L280.3,561.4 L282.0,562.2 L283.7,562.3 L285.5,561.8 L287.2,562.0 L288.9,561.7 L290.6,562.2 L292.3,562.3 L294.0,562.3 L295.7,563.0 L297.4,562.8 L299.1,563.1 L300.9,562.7 L302.6,563.0 L304.3,562.7 L306.0,563.2 L307.7,563.4 L307.7,564.3 L73.3,564.3 Z" fill="#8594c0"/>
<path d="M73.3,561.2 L75.0,560.9 L76.7,560.2 L78.4,559.3 L80.1,559.1 L81.9,559.0 L83.6,558.5 L85.3,557.8 L87.0,557.2 L88.7,557.2 L90.4,555.7 L92.1,555.3 L93.8,555.6 L95.5,553.5 L97.3,554.1 L99.0,553.7 L100.7,553.6 L102.4,552.7 L104.1,551.8 L105.8,551.5 L107.5,552.2 L109.2,552.5 L110.9,553.0 L112.7,552.6 L114.4,553.7 L116.1,554.8 L117.8,554.9 L119.5,554.1 L121.2,556.4 L122.9,556.4 L124.6,557.0 L126.3,556.8 L128.1,559.0 L129.8,558.1 L131.5,557.6 L133.2,558.8 L134.9,558.8 L136.6,558.1 L138.3,556.9 L140.0,558.0 L141.7,557.0 L143.4,557.0 L145.2,555.3 L146.9,554.2 L148.6,553.4 L150.3,551.5 L152.0,549.8 L153.7,548.6 L155.4,548.9 L157.1,546.3 L158.8,545.0 L160.6,541.4 L162.3,541.8 L164.0,540.9 L165.7,539.0 L167.4,537.7 L169.1,532.7 L170.8,530.7 L172.5,530.6 L174.2,528.2 L176.0,527.8 L177.7,523.9 L179.4,519.7 L181.1,517.4 L182.8,516.0 L184.5,512.5 L186.2,510.3 L187.9,513.4 L189.6,510.7 L191.4,508.8 L193.1,510.9 L194.8,513.7 L196.5,511.9 L198.2,514.4 L199.9,515.9 L201.6,518.2 L203.3,519.9 L205.0,518.9 L206.8,520.6 L208.5,523.0 L210.2,525.9 L211.9,526.3 L213.6,528.4 L215.3,533.1 L217.0,534.1 L218.7,536.1 L220.4,539.7 L222.2,541.9 L223.9,545.0 L225.6,546.0 L227.3,548.8 L229.0,550.2 L230.7,550.7 L232.4,552.1 L234.1,553.6 L235.8,554.2 L237.6,555.4 L239.3,555.5 L241.0,556.8 L242.7,556.7 L244.4,557.1 L246.1,557.8 L247.8,557.8 L249.5,558.3 L251.2,559.4 L252.9,559.0 L254.7,560.1 L256.4,559.8 L258.1,559.4 L259.8,560.2 L261.5,560.2 L263.2,560.4 L264.9,560.2 L266.6,561.0 L268.3,561.8 L270.1,561.7 L271.8,561.4 L273.5,561.3 L275.2,561.9 L276.9,561.8 L278.6,561.4 L280.3,561.4 L282.0,562.2 L283.7,562.3 L285.5,561.8 L287.2,562.0 L288.9,561.7 L290.6,562.2 L292.3,562.3 L294.0,562.3 L295.7,563.0 L297.4,562.8 L299.1,563.1 L300.9,562.7 L302.6,563.0 L304.3,562.7 L306.0,563.2 L307.7,563.4" fill="none" stroke="#1a1a1a" stroke-width="0.9" stroke-linejoin="round"/>
<path d="M73.3,610.1 L75.0,608.5 L76.7,604.8 L78.4,602.6 L80.1,597.9 L81.9,598.0 L83.6,594.6 L85.3,593.1 L87.0,591.9 L88.7,588.2 L90.4,587.4 L92.1,588.7 L93.8,585.9 L95.5,585.6 L97.3,583.2 L99.0,579.8 L100.7,580.0 L102.4,580.1 L104.1,581.0 L105.8,581.9 L107.5,579.4 L109.2,578.2 L110.9,582.7 L112.7,583.7 L114.4,585.8 L116.1,584.0 L117.8,585.4 L119.5,587.6 L121.2,591.1 L122.9,594.9 L124.6,599.9 L126.3,600.3 L128.1,601.2 L129.8,604.8 L131.5,604.2 L133.2,608.6 L134.9,611.0 L136.6,611.3 L138.3,613.6 L140.0,614.4 L141.7,615.9 L143.4,616.7 L145.2,617.9 L146.9,618.5 L148.6,618.6 L150.3,619.8 L152.0,619.8 L153.7,619.6 L155.4,620.5 L157.1,619.8 L158.8,619.3 L160.6,619.8 L162.3,619.4 L164.0,618.5 L165.7,617.6 L167.4,617.7 L169.1,615.7 L170.8,615.7 L172.5,615.3 L174.2,613.9 L176.0,613.4 L177.7,613.1 L179.4,613.3 L181.1,611.9 L182.8,612.5 L184.5,612.8 L186.2,613.8 L187.9,613.9 L189.6,613.8 L191.4,615.1 L193.1,613.5 L194.8,614.3 L196.5,615.5 L198.2,615.4 L199.9,616.4 L201.6,617.0 L203.3,615.8 L205.0,617.4 L206.8,617.1 L208.5,617.9 L210.2,618.8 L211.9,618.2 L213.6,619.0 L215.3,618.5 L217.0,620.3 L218.7,619.5 L220.4,620.3 L222.2,620.5 L223.9,621.4 L225.6,621.3 L227.3,620.9 L229.0,621.8 L230.7,622.2 L232.4,622.3 L234.1,622.6 L235.8,622.0 L237.6,622.5 L239.3,622.6 L241.0,622.8 L242.7,622.1 L244.4,623.4 L246.1,623.4 L247.8,623.1 L249.5,623.2 L251.2,622.6 L252.9,622.6 L254.7,623.1 L256.4,623.0 L258.1,623.1 L259.8,623.3 L261.5,623.6 L263.2,623.4 L264.9,623.4 L266.6,623.5 L268.3,623.0 L270.1,622.7 L271.8,622.8 L273.5,623.1 L275.2,623.1 L276.9,623.1 L278.6,623.4 L280.3,624.1 L282.0,623.3 L283.7,624.0 L285.5,623.6 L287.2,623.5 L288.9,623.3 L290.6,623.2 L292.3,623.9 L294.0,623.5 L295.7,623.8 L297.4,623.2 L299.1,623.6 L300.9,623.4 L302.6,623.4 L304.3,623.8 L306.0,623.5 L307.7,623.7 L307.7,624.5 L73.3,624.5 Z" fill="#8594c0"/>
<path d="M73.3,610.1 L75.0,608.5 L76.7,604.8 L78.4,602.6 L80.1,597.9 L81.9,598.0 L83.6,594.6 L85.3,593.1 L87.0,591.9 L88.7,588.2 L90.4,587.4 L92.1,588.7 L93.8,585.9 L95.5,585.6 L97.3,583.2 L99.0,579.8 L100.7,580.0 L102.4,580.1 L104.1,581.0 L105.8,581.9 L107.5,579.4 L109.2,578.2 L110.9,582.7 L112.7,583.7 L114.4,585.8 L116.1,584.0 L117.8,585.4 L119.5,587.6 L121.2,591.1 L122.9,594.9 L124.6,599.9 L126.3,600.3 L128.1,601.2 L129.8,604.8 L131.5,604.2 L133.2,608.6 L134.9,611.0 L136.6,611.3 L138.3,613.6 L140.0,614.4 L141.7,615.9 L143.4,616.7 L145.2,617.9 L146.9,618.5 L148.6,618.6 L150.3,619.8 L152.0,619.8 L153.7,619.6 L155.4,620.5 L157.1,619.8 L158.8,619.3 L160.6,619.8 L162.3,619.4 L164.0,618.5 L165.7,617.6 L167.4,617.7 L169.1,615.7 L170.8,615.7 L172.5,615.3 L174.2,613.9 L176.0,613.4 L177.7,613.1 L179.4,613.3 L181.1,611.9 L182.8,612.5 L184.5,612.8 L186.2,613.8 L187.9,613.9 L189.6,613.8 L191.4,615.1 L193.1,613.5 L194.8,614.3 L196.5,615.5 L198.2,615.4 L199.9,616.4 L201.6,617.0 L203.3,615.8 L205.0,617.4 L206.8,617.1 L208.5,617.9 L210.2,618.8 L211.9,618.2 L213.6,619.0 L215.3,618.5 L217.0,620.3 L218.7,619.5 L220.4,620.3 L222.2,620.5 L223.9,621.4 L225.6,621.3 L227.3,620.9 L229.0,621.8 L230.7,622.2 L232.4,622.3 L234.1,622.6 L235.8,622.0 L237.6,622.5 L239.3,622.6 L241.0,622.8 L242.7,622.1 L244.4,623.4 L246.1,623.4 L247.8,623.1 L249.5,623.2 L251.2,622.6 L252.9,622.6 L254.7,623.1 L256.4,623.0 L258.1,623.1 L259.8,623.3 L261.5,623.6 L263.2,623.4 L264.9,623.4 L266.6,623.5 L268.3,623.0 L270.1,622.7 L271.8,622.8 L273.5,623.1 L275.2,623.1 L276.9,623.1 L278.6,623.4 L280.3,624.1 L282.0,623.3 L283.7,624.0 L285.5,623.6 L287.2,623.5 L288.9,623.3 L290.6,623.2 L292.3,623.9 L294.0,623.5 L295.7,623.8 L297.4,623.2 L299.1,623.6 L300.9,623.4 L302.6,623.4 L304.3,623.8 L306.0,623.5 L307.7,623.7" fill="none" stroke="#1a1a1a" stroke-width="0.9" stroke-linejoin="round"/>
<path d="M73.3,669.2 L75.0,665.3 L76.7,663.0 L78.4,659.2 L80.1,656.4 L81.9,655.1 L83.6,652.4 L85.3,650.7 L87.0,647.8 L88.7,647.2 L90.4,646.9 L92.1,642.7 L93.8,640.5 L95.5,637.2 L97.3,634.9 L99.0,634.0 L100.7,633.2 L102.4,636.1 L104.1,634.4 L105.8,634.2 L107.5,634.5 L109.2,637.7 L110.9,640.8 L112.7,638.2 L114.4,640.6 L116.1,641.0 L117.8,648.4 L119.5,645.7 L121.2,651.2 L122.9,653.0 L124.6,655.6 L126.3,659.3 L128.1,659.5 L129.8,664.2 L131.5,665.3 L133.2,668.2 L134.9,670.3 L136.6,672.1 L138.3,674.1 L140.0,673.9 L141.7,676.6 L143.4,677.6 L145.2,678.4 L146.9,679.5 L148.6,679.8 L150.3,680.7 L152.0,680.7 L153.7,681.5 L155.4,681.5 L157.1,681.8 L158.8,682.4 L160.6,682.7 L162.3,683.1 L164.0,682.7 L165.7,683.1 L167.4,682.8 L169.1,683.9 L170.8,683.7 L172.5,683.0 L174.2,683.2 L176.0,684.0 L177.7,683.2 L179.4,683.9 L181.1,683.9 L182.8,683.5 L184.5,683.5 L186.2,683.8 L187.9,683.9 L189.6,683.1 L191.4,683.2 L193.1,683.4 L194.8,683.2 L196.5,683.6 L198.2,683.5 L199.9,683.5 L201.6,683.9 L203.3,683.6 L205.0,683.6 L206.8,683.6 L208.5,683.6 L210.2,683.7 L211.9,683.6 L213.6,683.8 L215.3,683.8 L217.0,683.9 L218.7,683.3 L220.4,683.8 L222.2,683.7 L223.9,683.5 L225.6,684.0 L227.3,683.3 L229.0,683.8 L230.7,683.6 L232.4,683.3 L234.1,683.8 L235.8,684.0 L237.6,684.2 L239.3,683.8 L241.0,684.4 L242.7,683.5 L244.4,684.0 L246.1,683.4 L247.8,683.8 L249.5,683.6 L251.2,684.0 L252.9,684.2 L254.7,684.0 L256.4,684.1 L258.1,684.1 L259.8,684.1 L261.5,684.1 L263.2,684.0 L264.9,684.0 L266.6,683.9 L268.3,683.9 L270.1,683.6 L271.8,684.2 L273.5,684.3 L275.2,683.5 L276.9,683.6 L278.6,684.0 L280.3,684.0 L282.0,684.3 L283.7,684.2 L285.5,684.5 L287.2,684.5 L288.9,684.2 L290.6,684.1 L292.3,684.3 L294.0,683.6 L295.7,684.3 L297.4,684.5 L299.1,684.3 L300.9,684.5 L302.6,684.3 L304.3,684.1 L306.0,683.9 L307.7,684.3 L307.7,684.7 L73.3,684.7 Z" fill="#8594c0"/>
<path d="M73.3,669.2 L75.0,665.3 L76.7,663.0 L78.4,659.2 L80.1,656.4 L81.9,655.1 L83.6,652.4 L85.3,650.7 L87.0,647.8 L88.7,647.2 L90.4,646.9 L92.1,642.7 L93.8,640.5 L95.5,637.2 L97.3,634.9 L99.0,634.0 L100.7,633.2 L102.4,636.1 L104.1,634.4 L105.8,634.2 L107.5,634.5 L109.2,637.7 L110.9,640.8 L112.7,638.2 L114.4,640.6 L116.1,641.0 L117.8,648.4 L119.5,645.7 L121.2,651.2 L122.9,653.0 L124.6,655.6 L126.3,659.3 L128.1,659.5 L129.8,664.2 L131.5,665.3 L133.2,668.2 L134.9,670.3 L136.6,672.1 L138.3,674.1 L140.0,673.9 L141.7,676.6 L143.4,677.6 L145.2,678.4 L146.9,679.5 L148.6,679.8 L150.3,680.7 L152.0,680.7 L153.7,681.5 L155.4,681.5 L157.1,681.8 L158.8,682.4 L160.6,682.7 L162.3,683.1 L164.0,682.7 L165.7,683.1 L167.4,682.8 L169.1,683.9 L170.8,683.7 L172.5,683.0 L174.2,683.2 L176.0,684.0 L177.7,683.2 L179.4,683.9 L181.1,683.9 L182.8,683.5 L184.5,683.5 L186.2,683.8 L187.9,683.9 L189.6,683.1 L191.4,683.2 L193.1,683.4 L194.8,683.2 L196.5,683.6 L198.2,683.5 L199.9,683.5 L201.6,683.9 L203.3,683.6 L205.0,683.6 L206.8,683.6 L208.5,683.6 L210.2,683.7 L211.9,683.6 L213.6,683.8 L215.3,683.8 L217.0,683.9 L218.7,683.3 L220.4,683.8 L222.2,683.7 L223.9,683.5 L225.6,684.0 L227.3,683.3 L229.0,683.8 L230.7,683.6 L232.4,683.3 L234.1,683.8 L235.8,684.0 L237.6,684.2 L239.3,683.8 L241.0,684.4 L242.7,683.5 L244.4,684.0 L246.1,683.4 L247.8,683.8 L249.5,683.6 L251.2,684.0 L252.9,684.2 L254.7,684.0 L256.4,684.1 L258.1,684.1 L259.8,684.1 L261.5,684.1 L263.2,684.0 L264.9,684.0 L266.6,683.9 L268.3,683.9 L270.1,683.6 L271.8,684.2 L273.5,684.3 L275.2,683.5 L276.9,683.6 L278.6,684.0 L280.3,684.0 L282.0,684.3 L283.7,684.2 L285.5,684.5 L287.2,684.5 L288.9,684.2 L290.6,684.1 L292.3,684.3 L294.0,683.6 L295.7,684.3 L297.4,684.5 L299.1,684.3 L300.9,684.5 L302.6,684.3 L304.3,684.1 L306.0,683.9 L307.7,684.3" fill="none" stroke="#1a1a1a" stroke-width="0.9" stroke-linejoin="round"/>
<path d="M73.3,733.7 L75.0,730.5 L76.7,729.3 L78.4,725.6 L80.1,722.3 L81.9,721.5 L83.6,718.3 L85.3,715.9 L87.0,711.9 L88.7,710.5 L90.4,707.0 L92.1,704.0 L93.8,702.1 L95.5,701.5 L97.3,699.0 L99.0,699.2 L100.7,696.0 L102.4,692.1 L104.1,692.2 L105.8,689.8 L107.5,691.8 L109.2,691.4 L110.9,692.3 L112.7,695.0 L114.4,699.7 L116.1,698.2 L117.8,703.1 L119.5,705.4 L121.2,706.6 L122.9,710.4 L124.6,713.1 L126.3,718.3 L128.1,718.4 L129.8,720.6 L131.5,724.3 L133.2,725.6 L134.9,729.2 L136.6,729.3 L138.3,731.2 L140.0,732.2 L141.7,733.9 L143.4,736.1 L145.2,737.4 L146.9,738.0 L148.6,738.7 L150.3,739.1 L152.0,740.8 L153.7,741.7 L155.4,742.1 L157.1,742.8 L158.8,742.3 L160.6,742.1 L162.3,741.9 L164.0,742.5 L165.7,743.0 L167.4,743.5 L169.1,743.2 L170.8,742.9 L172.5,743.9 L174.2,744.1 L176.0,743.4 L177.7,744.2 L179.4,743.2 L181.1,744.1 L182.8,743.4 L184.5,743.8 L186.2,744.4 L187.9,744.3 L189.6,744.7 L191.4,744.1 L193.1,744.6 L194.8,744.6 L196.5,744.3 L198.2,744.4 L199.9,744.6 L201.6,744.4 L203.3,744.4 L205.0,744.3 L206.8,743.8 L208.5,744.1 L210.2,744.1 L211.9,744.7 L213.6,744.0 L215.3,744.1 L217.0,743.6 L218.7,744.5 L220.4,744.2 L222.2,744.5 L223.9,744.6 L225.6,744.6 L227.3,744.7 L229.0,744.7 L230.7,744.7 L232.4,744.7 L234.1,744.5 L235.8,744.1 L237.6,744.6 L239.3,744.5 L241.0,744.7 L242.7,744.3 L244.4,744.5 L246.1,744.3 L247.8,744.7 L249.5,744.5 L251.2,744.3 L252.9,744.6 L254.7,744.2 L256.4,744.2 L258.1,744.2 L259.8,744.4 L261.5,744.3 L263.2,744.6 L264.9,744.2 L266.6,744.4 L268.3,744.1 L270.1,743.9 L271.8,744.3 L273.5,744.7 L275.2,744.7 L276.9,744.7 L278.6,744.2 L280.3,744.5 L282.0,744.4 L283.7,744.5 L285.5,744.6 L287.2,744.5 L288.9,744.7 L290.6,744.7 L292.3,744.7 L294.0,744.4 L295.7,744.7 L297.4,744.4 L299.1,744.2 L300.9,744.5 L302.6,744.6 L304.3,744.7 L306.0,744.5 L307.7,744.7 L307.7,744.9 L73.3,744.9 Z" fill="#8594c0"/>
<path d="M73.3,733.7 L75.0,730.5 L76.7,729.3 L78.4,725.6 L80.1,722.3 L81.9,721.5 L83.6,718.3 L85.3,715.9 L87.0,711.9 L88.7,710.5 L90.4,707.0 L92.1,704.0 L93.8,702.1 L95.5,701.5 L97.3,699.0 L99.0,699.2 L100.7,696.0 L102.4,692.1 L104.1,692.2 L105.8,689.8 L107.5,691.8 L109.2,691.4 L110.9,692.3 L112.7,695.0 L114.4,699.7 L116.1,698.2 L117.8,703.1 L119.5,705.4 L121.2,706.6 L122.9,710.4 L124.6,713.1 L126.3,718.3 L128.1,718.4 L129.8,720.6 L131.5,724.3 L133.2,725.6 L134.9,729.2 L136.6,729.3 L138.3,731.2 L140.0,732.2 L141.7,733.9 L143.4,736.1 L145.2,737.4 L146.9,738.0 L148.6,738.7 L150.3,739.1 L152.0,740.8 L153.7,741.7 L155.4,742.1 L157.1,742.8 L158.8,742.3 L160.6,742.1 L162.3,741.9 L164.0,742.5 L165.7,743.0 L167.4,743.5 L169.1,743.2 L170.8,742.9 L172.5,743.9 L174.2,744.1 L176.0,743.4 L177.7,744.2 L179.4,743.2 L181.1,744.1 L182.8,743.4 L184.5,743.8 L186.2,744.4 L187.9,744.3 L189.6,744.7 L191.4,744.1 L193.1,744.6 L194.8,744.6 L196.5,744.3 L198.2,744.4 L199.9,744.6 L201.6,744.4 L203.3,744.4 L205.0,744.3 L206.8,743.8 L208.5,744.1 L210.2,744.1 L211.9,744.7 L213.6,744.0 L215.3,744.1 L217.0,743.6 L218.7,744.5 L220.4,744.2 L222.2,744.5 L223.9,744.6 L225.6,744.6 L227.3,744.7 L229.0,744.7 L230.7,744.7 L232.4,744.7 L234.1,744.5 L235.8,744.1 L237.6,744.6 L239.3,744.5 L241.0,744.7 L242.7,744.3 L244.4,744.5 L246.1,744.3 L247.8,744.7 L249.5,744.5 L251.2,744.3 L252.9,744.6 L254.7,744.2 L256.4,744.2 L258.1,744.2 L259.8,744.4 L261.5,744.3 L263.2,744.6 L264.9,744.2 L266.6,744.4 L268.3,744.1 L270.1,743.9 L271.8,744.3 L273.5,744.7 L275.2,744.7 L276.9,744.7 L278.6,744.2 L280.3,744.5 L282.0,744.4 L283.7,744.5 L285.5,744.6 L287.2,744.5 L288.9,744.7 L290.6,744.7 L292.3,744.7 L294.0,744.4 L295.7,744.7 L297.4,744.4 L299.1,744.2 L300.9,744.5 L302.6,744.6 L304.3,744.7 L306.0,744.5 L307.7,744.7" fill="none" stroke="#1a1a1a" stroke-width="0.9" stroke-linejoin="round"/>
<rect x="55.8" y="23.7" width="13.6" height="360" fill="#fff" stroke="#222" stroke-width="0.9"/>
<rect x="55.4" y="383.6" width="14.2" height="361.6" fill="#000"/>
<text x="70.3" y="18.8" font-size="23.2" font-family="Liberation Sans, Arial, sans-serif" fill="#000">A</text>
<text x="326.3" y="18.8" font-size="23.2" font-family="Liberation Sans, Arial, sans-serif" fill="#000">B</text>
<text x="628.6" y="18.8" font-size="23.2" font-family="Liberation Sans, Arial, sans-serif" fill="#000">C</text>
<text x="52" y="57.9" font-size="18.6" text-anchor="end" font-family="Liberation Sans, Arial, sans-serif" fill="#000">0</text>
<text x="52" y="118.1" font-size="18.6" text-anchor="end" font-family="Liberation Sans, Arial, sans-serif" fill="#000">2</text>
<text x="52" y="178.3" font-size="18.6" text-anchor="end" font-family="Liberation Sans, Arial, sans-serif" fill="#000">4</text>
<text x="52" y="238.5" font-size="18.6" text-anchor="end" font-family="Liberation Sans, Arial, sans-serif" fill="#000">6</text>
<text x="52" y="298.7" font-size="18.6" text-anchor="end" font-family="Liberation Sans, Arial, sans-serif" fill="#000">8</text>
<text x="52" y="358.9" font-size="18.6" text-anchor="end" font-family="Liberation Sans, Arial, sans-serif" fill="#000">10</text>
<text x="52" y="419.1" font-size="18.6" text-anchor="end" font-family="Liberation Sans, Arial, sans-serif" fill="#000">12</text>
<text x="52" y="479.3" font-size="18.6" text-anchor="end" font-family="Liberation Sans, Arial, sans-serif" fill="#000">14</text>
<text x="52" y="539.5" font-size="18.6" text-anchor="end" font-family="Liberation Sans, Arial, sans-serif" fill="#000">16</text>
<text x="52" y="599.7" font-size="18.6" text-anchor="end" font-family="Liberation Sans, Arial, sans-serif" fill="#000">18</text>
<text x="52" y="659.9" font-size="18.6" text-anchor="end" font-family="Liberation Sans, Arial, sans-serif" fill="#000">20</text>
<text x="52" y="720.1" font-size="18.6" text-anchor="end" font-family="Liberation Sans, Arial, sans-serif" fill="#000">22</text>
<text transform="translate(19.8,390) rotate(-90)" font-size="24.2" text-anchor="middle" font-family="Liberation Sans, Arial, sans-serif" fill="#000">time (hours)</text>
<text x="92.9" y="768.3" font-size="17" text-anchor="middle" font-family="Liberation Sans, Arial, sans-serif" fill="#000">2</text>
<text x="165.5" y="768.3" font-size="17" text-anchor="middle" font-family="Liberation Sans, Arial, sans-serif" fill="#000">3</text>
<text x="238.1" y="768.3" font-size="17" text-anchor="middle" font-family="Liberation Sans, Arial, sans-serif" fill="#000">4</text>
<text x="310.8" y="768.3" font-size="17" text-anchor="middle" font-family="Liberation Sans, Arial, sans-serif" fill="#000">5</text>
<text x="200.5" y="792.3" font-size="22.3" text-anchor="middle" font-family="Liberation Sans, Arial, sans-serif" fill="#000">cell diameter (μm)</text>
<line x1="230.3" y1="76" x2="230.3" y2="32" stroke="#808080" stroke-width="1.1"/>
<path d="M230.3,26.3 L233.4,34 L230.3,32.8 L227.2,34 Z" fill="#808080"/>
<text x="238.3" y="45.9" font-size="17.5" textLength="56.2" lengthAdjust="spacingAndGlyphs" font-family="Liberation Sans, Arial, sans-serif" fill="#7a7a7a">relative</text>
<text x="238.3" y="69.1" font-size="17.5" textLength="78" lengthAdjust="spacingAndGlyphs" font-family="Liberation Sans, Arial, sans-serif" fill="#7a7a7a">frequency</text>
<rect x="327" y="22.2" width="301.8" height="723" fill="#000"/>
<rect x="630" y="22.2" width="120" height="723" fill="#4f4f4f"/>
<g clip-path="url(#panelC)">
<path d="M631.3,55.8 L707.7,33.8 M636.1,67.2 L706.1,46.8 M642.6,76.9 L706.1,59.0 M647.5,85.1 L704.4,67.2 M650.8,100.5 L719.1,76.9 M656.5,115.2 L724.0,92.4 M658.9,132.2 L727.2,106.2 M631.3,39.5 L670.3,140.4 M654.8,33.0 L689.8,137.1 M677.6,26.5 L707.7,132.2 M697.9,23.3 L724.0,124.1 M707.7,33.8 L741.9,111.1 M708.5,46.0 L738.6,117.6 M706.1,59.0 L732.1,120.8 M722.3,34.6 L719.1,88.3 M732.1,52.5 L719.1,88.3 M745.1,72.0 L725.6,107.8 M697.9,23.3 L697.9,54.2 M709.3,23.3 L707.7,73.7 M631.3,166.8 L702.8,143.3 M631.3,183.9 L702.8,157.1 M637.8,195.3 L701.2,170.1 M642.6,205.1 L676.8,192.0 M657.3,237.6 L725.6,218.1 M663.8,252.2 L715.8,227.8 M631.3,166.0 L675.2,262.0 M652.4,156.3 L663.8,188.8 M672.7,149.8 L676.8,179.0 M693.1,143.3 L693.1,177.4 M702.8,143.3 L701.2,175.8 M704.4,144.9 L748.4,201.8 M702.8,157.1 L745.1,216.4 M701.2,170.1 L735.4,232.7 M715.8,153.0 L719.1,198.6 M727.2,170.9 L725.6,218.1 M741.9,187.2 L725.6,219.7 M681.7,234.3 L693.1,257.1 M693.1,226.2 L709.3,249.0 M709.3,213.2 L725.6,237.6 M648.3,271.4 L631.3,372.2 M655.7,287.7 L643.5,373.9 M663.0,297.4 L652.4,372.2 M663.0,336.4 L659.7,364.1 M681.7,333.2 L678.4,372.2 M695.5,264.9 L699.6,372.2 M722.3,264.9 L714.2,373.9 M663.0,284.4 L683.3,284.4 M701.2,271.4 L748.4,271.4 M704.4,284.4 L724.0,284.4 M720.7,295.0 L733.7,295.0 M720.7,303.1 L730.5,303.1 M721.5,308.3 L730.5,308.3 M671.9,294.2 L707.7,294.5 M663.0,336.4 L699.6,339.7 M631.3,346.2 L691.4,356.8 M725.6,358.4 L734.5,359.2 M727.2,324.2 L733.7,324.6 M730.5,341.0 L734.5,341.3 M642.6,264.9 L663.0,295.0 M668.7,264.9 L680.0,292.5 M748.4,273.0 L732.1,308.8 M639.4,290.1 L660.5,307.2 M631.3,313.7 L663.0,336.4 M631.3,423.9 L702.8,388.1 M631.3,435.3 L699.6,399.5 M639.4,446.7 L697.9,409.3 M645.9,456.4 L660.5,448.3 M662.2,485.7 L741.9,448.3 M671.9,501.2 L748.4,458.1 M699.6,461.3 L728.8,445.1 M632.9,412.5 L681.7,500.4 M656.5,401.1 L663.0,427.2 M678.4,398.7 L678.4,414.2 M698.8,384.9 L693.1,415.8 M702.8,388.1 L748.4,446.7 M699.6,399.5 L745.1,463.0 M697.9,409.3 L725.6,471.1 M715.8,388.1 L704.4,419.0 M728.8,407.7 L715.8,433.7 M654.8,513.8 L745.1,517.9 M660.5,526.8 L745.1,530.9 M699.6,539.0 L738.6,540.7 M702.8,548.0 L732.1,548.8 M660.5,604.1 L732.1,609.0 M671.1,507.3 L676.8,529.3 M721.5,509.8 L712.6,548.8 M745.1,514.6 L732.1,547.2 M728.8,565.1 L728.8,620.4 M709.3,584.6 L709.3,620.4 M691.4,587.8 L691.4,617.1 M675.2,597.6 L673.5,613.9 M654.8,513.8 L635.3,610.6 M660.5,526.8 L644.3,612.2 M664.6,539.0 L652.4,612.2 M666.2,553.7 L658.9,612.2 M650.8,513.8 L666.2,553.7 M647.5,537.4 L663.0,565.1 M642.6,561.8 L660.5,584.6 M636.1,589.5 L660.5,604.1 M676.8,625.7 L748.4,646.8 M676.8,640.3 L748.4,664.7 M678.4,654.2 L748.4,681.8 M680.0,666.4 L741.9,691.6 M676.8,625.7 L680.0,668.8 M693.9,634.6 L693.1,667.2 M713.4,636.3 L707.7,673.7 M735.4,642.8 L724.0,685.1 M676.8,625.7 L637.8,667.2 M665.4,636.3 L671.9,685.1 M652.4,652.5 L663.0,696.4 M637.8,667.2 L653.2,708.6 M676.8,640.3 L631.3,673.7 M676.8,654.2 L632.9,694.8 M678.4,667.2 L644.3,716.0 M653.2,708.6 L719.1,742.0 M663.0,696.4 L728.8,724.1 M676.8,698.1 L660.5,727.4 M693.1,711.1 L675.2,737.1 M709.3,711.1 L696.3,740.4 M724.0,685.1 L715.8,742.0 M748.4,668.8 L728.8,724.1" fill="none" stroke="#b0b0b0" stroke-opacity="0.5" stroke-width="0.6" stroke-dasharray="2.6 0.7"/>
<g filter="url(#f3d)">
<path d="M664.6,75.3 C667.5,69.3 665.4,72.0 671.1,70.4 C676.8,68.8 674.9,67.7 681.7,70.4 C688.5,73.1 687.1,72.6 691.4,78.6 C695.8,84.5 693.1,80.2 694.7,88.3 C696.3,96.4 697.4,95.9 696.3,103.0 C695.2,110.0 695.8,106.5 691.4,109.5 C687.1,112.4 689.8,112.4 683.3,111.9 C676.8,111.4 677.9,110.8 671.9,107.8 C666.0,104.9 668.6,109.5 665.4,103.0 C662.3,96.4 662.8,97.5 662.5,88.3 C662.2,79.1 661.7,81.3 664.6,75.3Z" fill="#e60e0e"/>
<path d="M656.5,214.8 C655.9,206.1 655.4,209.4 658.9,200.2 C662.4,191.0 660.5,193.9 667.0,187.2 C673.5,180.4 670.6,183.0 678.4,179.9 C686.3,176.7 683.0,176.8 690.6,177.7 C698.2,178.7 695.0,178.4 701.2,182.6 C707.4,186.8 705.3,184.0 709.3,190.4 C713.4,196.8 712.9,194.8 713.4,201.8 C713.9,208.9 715.0,206.1 711.0,211.6 C706.9,217.0 707.2,213.7 701.2,218.1 C695.2,222.4 697.1,219.4 693.1,224.6 C689.0,229.7 693.3,230.0 689.0,233.5 C684.7,237.1 686.8,235.7 680.0,235.2 C673.3,234.6 675.2,234.9 668.7,231.9 C662.2,228.9 664.6,231.9 660.5,226.2 C656.5,220.5 657.0,223.5 656.5,214.8Z" fill="#e60e0e"/>
<path d="M659.7,320.2 C660.3,314.2 659.4,314.5 663.0,307.2 C666.5,299.9 663.5,302.7 670.3,298.2 C677.1,293.8 674.1,294.9 683.3,293.8 C692.5,292.7 688.7,292.4 697.9,295.0 C707.2,297.5 703.4,295.8 711.0,301.5 C718.5,307.2 715.3,304.2 720.7,312.0 C726.1,319.9 724.5,316.4 727.2,325.1 C729.9,333.7 729.7,329.4 728.8,338.1 C728.0,346.7 728.8,343.2 724.8,351.1 C720.7,358.9 722.9,356.5 716.6,361.7 C710.4,366.8 712.3,365.2 706.1,366.5 C699.8,367.9 701.7,368.7 697.9,365.7 C694.1,362.7 694.7,363.6 694.7,357.6 C694.7,351.6 695.2,354.9 697.9,347.8 C700.7,340.8 701.2,343.0 702.8,336.4 C704.4,329.9 704.4,332.7 702.8,328.3 C701.2,324.0 701.2,324.5 697.9,323.4 C694.7,322.4 696.3,323.2 693.1,325.1 C689.8,327.0 693.6,327.8 688.2,329.1 C682.8,330.5 683.8,329.1 676.8,329.1 C669.7,329.1 672.2,330.5 667.0,329.1 C661.9,327.8 663.8,328.0 661.3,325.1 C658.9,322.1 659.2,326.1 659.7,320.2Z" fill="#e60e0e"/>
<path d="M675.2,423.9 C677.1,425.8 676.5,424.5 676.8,430.4 C677.1,436.4 677.1,434.2 676.0,441.8 C674.9,449.4 673.3,445.1 673.5,453.2 C673.8,461.3 673.8,458.1 676.8,466.2 C679.8,474.3 680.0,471.4 682.5,477.6 C684.9,483.8 685.5,481.9 684.1,484.9 C682.8,487.9 683.0,487.1 678.4,486.5 C673.8,486.0 675.7,487.4 670.3,483.3 C664.9,479.2 666.8,481.7 662.2,474.3 C657.5,467.0 658.9,470.0 656.5,461.3 C654.0,452.7 654.3,456.4 654.8,448.3 C655.4,440.2 654.8,443.4 658.1,436.9 C661.3,430.4 660.3,432.9 664.6,428.8 C668.9,424.7 667.6,426.4 671.1,424.7 C674.6,423.1 673.3,422.0 675.2,423.9Z" fill="#e60e0e"/>
<path d="M680.0,430.4 C681.4,425.8 679.8,427.0 684.1,423.1 C688.5,419.2 687.4,419.8 693.1,418.7 C698.8,417.6 695.2,417.0 701.2,419.9 C707.2,422.7 705.0,421.5 711.0,427.2 C716.9,432.9 715.0,429.9 719.1,436.9 C723.2,444.0 721.8,440.2 723.2,448.3 C724.5,456.4 724.5,453.5 723.2,461.3 C721.8,469.2 722.3,467.3 719.1,471.9 C715.8,476.5 717.2,475.4 713.4,475.2 C709.6,474.9 710.7,475.7 707.7,471.1 C704.7,466.5 707.2,467.8 704.4,461.3 C701.7,454.8 703.9,456.4 699.6,451.6 C695.2,446.7 696.9,449.7 691.4,446.7 C686.0,443.7 687.1,445.9 683.3,442.6 C679.5,439.4 681.1,441.0 680.0,436.9 C679.0,432.9 678.7,435.0 680.0,430.4Z" fill="#e60e0e"/>
<path d="M670.3,532.5 C673.3,528.7 671.9,530.1 676.8,529.3 C681.7,528.5 680.0,530.7 684.9,530.1 C689.8,529.4 687.1,527.3 691.4,527.3 C695.8,527.3 694.7,526.2 697.9,530.1 C701.2,534.0 701.2,532.8 701.2,539.0 C701.2,545.3 701.7,543.6 697.9,548.8 C694.1,553.9 696.3,551.2 689.8,554.5 C683.3,557.7 684.9,557.5 678.4,558.6 C671.9,559.6 674.1,560.5 670.3,557.7 C666.5,555.0 667.9,556.1 667.0,550.4 C666.2,544.7 666.8,546.6 667.9,540.7 C668.9,534.7 667.3,536.3 670.3,532.5Z" fill="#e60e0e"/>
<path d="M663.0,565.1 C664.3,560.1 663.2,561.5 667.0,561.5 C670.8,561.5 668.9,561.2 674.4,565.1 C679.8,569.0 677.9,567.2 683.3,573.2 C688.7,579.2 687.6,577.0 690.6,583.0 C693.6,588.9 692.8,585.7 692.2,591.1 C691.7,596.5 692.0,596.0 689.0,599.2 C686.0,602.5 687.9,601.9 683.3,600.8 C678.7,599.8 680.3,600.3 675.2,596.0 C670.0,591.6 671.9,594.3 667.9,587.8 C663.8,581.3 664.6,584.0 663.0,576.4 C661.3,568.9 661.6,570.0 663.0,565.1Z" fill="#e60e0e"/>
<path d="M688.2,565.1 C689.0,558.3 688.7,559.7 693.1,556.1 C697.4,552.5 695.8,554.2 701.2,554.2 C706.6,554.2 704.7,552.5 709.3,556.1 C713.9,559.7 712.9,559.4 715.0,565.1 C717.2,570.8 717.2,567.5 715.8,573.2 C714.5,578.9 715.3,577.7 711.0,582.1 C706.6,586.6 707.7,586.0 702.8,586.5 C697.9,587.1 700.4,587.1 696.3,583.8 C692.2,580.4 693.3,582.7 690.6,576.4 C687.9,570.2 687.4,571.8 688.2,565.1Z" fill="#e60e0e"/>
<path d="M708.5,597.6 C708.0,592.7 708.2,594.3 711.0,587.8 C713.7,581.3 711.8,583.8 716.6,578.1 C721.5,572.4 719.9,574.3 725.6,570.8 C731.3,567.2 729.9,567.0 733.7,567.5 C737.5,568.0 736.4,567.2 737.0,572.4 C737.5,577.5 738.1,575.6 735.4,583.0 C732.6,590.3 733.7,588.4 728.8,594.3 C724.0,600.3 726.1,598.1 720.7,600.8 C715.3,603.6 716.6,603.6 712.6,602.5 C708.5,601.4 709.1,602.5 708.5,597.6Z" fill="#e60e0e"/>
<path d="M674.4,686.7 C674.1,681.5 674.4,683.0 677.6,678.6 C680.9,674.1 679.0,675.2 684.1,673.4 C689.3,671.5 687.4,671.9 693.1,672.9 C698.8,673.8 696.3,672.3 701.2,676.1 C706.1,679.9 704.3,678.0 707.7,684.2 C711.1,690.5 710.5,688.0 711.3,694.8 C712.1,701.6 712.4,699.2 710.1,704.6 C707.9,710.0 709.1,707.9 704.4,711.1 C699.8,714.2 700.9,714.0 696.3,714.0 C691.7,714.0 694.1,714.5 690.6,711.1 C687.1,707.7 688.2,708.6 685.7,703.8 C683.3,698.9 685.7,699.7 683.3,696.4 C680.9,693.2 681.4,697.3 678.4,694.0 C675.4,690.8 674.6,691.8 674.4,686.7Z" fill="#e60e0e"/>
</g>
<clipPath id="blobclip">
<path d="M664.6,75.3 C667.5,69.3 665.4,72.0 671.1,70.4 C676.8,68.8 674.9,67.7 681.7,70.4 C688.5,73.1 687.1,72.6 691.4,78.6 C695.8,84.5 693.1,80.2 694.7,88.3 C696.3,96.4 697.4,95.9 696.3,103.0 C695.2,110.0 695.8,106.5 691.4,109.5 C687.1,112.4 689.8,112.4 683.3,111.9 C676.8,111.4 677.9,110.8 671.9,107.8 C666.0,104.9 668.6,109.5 665.4,103.0 C662.3,96.4 662.8,97.5 662.5,88.3 C662.2,79.1 661.7,81.3 664.6,75.3Z"/>
<path d="M656.5,214.8 C655.9,206.1 655.4,209.4 658.9,200.2 C662.4,191.0 660.5,193.9 667.0,187.2 C673.5,180.4 670.6,183.0 678.4,179.9 C686.3,176.7 683.0,176.8 690.6,177.7 C698.2,178.7 695.0,178.4 701.2,182.6 C707.4,186.8 705.3,184.0 709.3,190.4 C713.4,196.8 712.9,194.8 713.4,201.8 C713.9,208.9 715.0,206.1 711.0,211.6 C706.9,217.0 707.2,213.7 701.2,218.1 C695.2,222.4 697.1,219.4 693.1,224.6 C689.0,229.7 693.3,230.0 689.0,233.5 C684.7,237.1 686.8,235.7 680.0,235.2 C673.3,234.6 675.2,234.9 668.7,231.9 C662.2,228.9 664.6,231.9 660.5,226.2 C656.5,220.5 657.0,223.5 656.5,214.8Z"/>
<path d="M659.7,320.2 C660.3,314.2 659.4,314.5 663.0,307.2 C666.5,299.9 663.5,302.7 670.3,298.2 C677.1,293.8 674.1,294.9 683.3,293.8 C692.5,292.7 688.7,292.4 697.9,295.0 C707.2,297.5 703.4,295.8 711.0,301.5 C718.5,307.2 715.3,304.2 720.7,312.0 C726.1,319.9 724.5,316.4 727.2,325.1 C729.9,333.7 729.7,329.4 728.8,338.1 C728.0,346.7 728.8,343.2 724.8,351.1 C720.7,358.9 722.9,356.5 716.6,361.7 C710.4,366.8 712.3,365.2 706.1,366.5 C699.8,367.9 701.7,368.7 697.9,365.7 C694.1,362.7 694.7,363.6 694.7,357.6 C694.7,351.6 695.2,354.9 697.9,347.8 C700.7,340.8 701.2,343.0 702.8,336.4 C704.4,329.9 704.4,332.7 702.8,328.3 C701.2,324.0 701.2,324.5 697.9,323.4 C694.7,322.4 696.3,323.2 693.1,325.1 C689.8,327.0 693.6,327.8 688.2,329.1 C682.8,330.5 683.8,329.1 676.8,329.1 C669.7,329.1 672.2,330.5 667.0,329.1 C661.9,327.8 663.8,328.0 661.3,325.1 C658.9,322.1 659.2,326.1 659.7,320.2Z"/>
<path d="M675.2,423.9 C677.1,425.8 676.5,424.5 676.8,430.4 C677.1,436.4 677.1,434.2 676.0,441.8 C674.9,449.4 673.3,445.1 673.5,453.2 C673.8,461.3 673.8,458.1 676.8,466.2 C679.8,474.3 680.0,471.4 682.5,477.6 C684.9,483.8 685.5,481.9 684.1,484.9 C682.8,487.9 683.0,487.1 678.4,486.5 C673.8,486.0 675.7,487.4 670.3,483.3 C664.9,479.2 666.8,481.7 662.2,474.3 C657.5,467.0 658.9,470.0 656.5,461.3 C654.0,452.7 654.3,456.4 654.8,448.3 C655.4,440.2 654.8,443.4 658.1,436.9 C661.3,430.4 660.3,432.9 664.6,428.8 C668.9,424.7 667.6,426.4 671.1,424.7 C674.6,423.1 673.3,422.0 675.2,423.9Z"/>
<path d="M680.0,430.4 C681.4,425.8 679.8,427.0 684.1,423.1 C688.5,419.2 687.4,419.8 693.1,418.7 C698.8,417.6 695.2,417.0 701.2,419.9 C707.2,422.7 705.0,421.5 711.0,427.2 C716.9,432.9 715.0,429.9 719.1,436.9 C723.2,444.0 721.8,440.2 723.2,448.3 C724.5,456.4 724.5,453.5 723.2,461.3 C721.8,469.2 722.3,467.3 719.1,471.9 C715.8,476.5 717.2,475.4 713.4,475.2 C709.6,474.9 710.7,475.7 707.7,471.1 C704.7,466.5 707.2,467.8 704.4,461.3 C701.7,454.8 703.9,456.4 699.6,451.6 C695.2,446.7 696.9,449.7 691.4,446.7 C686.0,443.7 687.1,445.9 683.3,442.6 C679.5,439.4 681.1,441.0 680.0,436.9 C679.0,432.9 678.7,435.0 680.0,430.4Z"/>
<path d="M670.3,532.5 C673.3,528.7 671.9,530.1 676.8,529.3 C681.7,528.5 680.0,530.7 684.9,530.1 C689.8,529.4 687.1,527.3 691.4,527.3 C695.8,527.3 694.7,526.2 697.9,530.1 C701.2,534.0 701.2,532.8 701.2,539.0 C701.2,545.3 701.7,543.6 697.9,548.8 C694.1,553.9 696.3,551.2 689.8,554.5 C683.3,557.7 684.9,557.5 678.4,558.6 C671.9,559.6 674.1,560.5 670.3,557.7 C666.5,555.0 667.9,556.1 667.0,550.4 C666.2,544.7 666.8,546.6 667.9,540.7 C668.9,534.7 667.3,536.3 670.3,532.5Z"/>
<path d="M663.0,565.1 C664.3,560.1 663.2,561.5 667.0,561.5 C670.8,561.5 668.9,561.2 674.4,565.1 C679.8,569.0 677.9,567.2 683.3,573.2 C688.7,579.2 687.6,577.0 690.6,583.0 C693.6,588.9 692.8,585.7 692.2,591.1 C691.7,596.5 692.0,596.0 689.0,599.2 C686.0,602.5 687.9,601.9 683.3,600.8 C678.7,599.8 680.3,600.3 675.2,596.0 C670.0,591.6 671.9,594.3 667.9,587.8 C663.8,581.3 664.6,584.0 663.0,576.4 C661.3,568.9 661.6,570.0 663.0,565.1Z"/>
<path d="M688.2,565.1 C689.0,558.3 688.7,559.7 693.1,556.1 C697.4,552.5 695.8,554.2 701.2,554.2 C706.6,554.2 704.7,552.5 709.3,556.1 C713.9,559.7 712.9,559.4 715.0,565.1 C717.2,570.8 717.2,567.5 715.8,573.2 C714.5,578.9 715.3,577.7 711.0,582.1 C706.6,586.6 707.7,586.0 702.8,586.5 C697.9,587.1 700.4,587.1 696.3,583.8 C692.2,580.4 693.3,582.7 690.6,576.4 C687.9,570.2 687.4,571.8 688.2,565.1Z"/>
<path d="M708.5,597.6 C708.0,592.7 708.2,594.3 711.0,587.8 C713.7,581.3 711.8,583.8 716.6,578.1 C721.5,572.4 719.9,574.3 725.6,570.8 C731.3,567.2 729.9,567.0 733.7,567.5 C737.5,568.0 736.4,567.2 737.0,572.4 C737.5,577.5 738.1,575.6 735.4,583.0 C732.6,590.3 733.7,588.4 728.8,594.3 C724.0,600.3 726.1,598.1 720.7,600.8 C715.3,603.6 716.6,603.6 712.6,602.5 C708.5,601.4 709.1,602.5 708.5,597.6Z"/>
<path d="M674.4,686.7 C674.1,681.5 674.4,683.0 677.6,678.6 C680.9,674.1 679.0,675.2 684.1,673.4 C689.3,671.5 687.4,671.9 693.1,672.9 C698.8,673.8 696.3,672.3 701.2,676.1 C706.1,679.9 704.3,678.0 707.7,684.2 C711.1,690.5 710.5,688.0 711.3,694.8 C712.1,701.6 712.4,699.2 710.1,704.6 C707.9,710.0 709.1,707.9 704.4,711.1 C699.8,714.2 700.9,714.0 696.3,714.0 C691.7,714.0 694.1,714.5 690.6,711.1 C687.1,707.7 688.2,708.6 685.7,703.8 C683.3,698.9 685.7,699.7 683.3,696.4 C680.9,693.2 681.4,697.3 678.4,694.0 C675.4,690.8 674.6,691.8 674.4,686.7Z"/>
</clipPath>
<g clip-path="url(#blobclip)"><g filter="url(#db)">
<ellipse cx="688.2" cy="104.6" rx="8.1" ry="5.7" fill="#400000" opacity="0.6" transform="rotate(20 688.2 104.6)"/>
<ellipse cx="676.8" cy="85.1" rx="4.9" ry="3.3" fill="#400000" opacity="0.6" transform="rotate(0 676.8 85.1)"/>
<ellipse cx="681.7" cy="196.1" rx="15.5" ry="2.9" fill="#400000" opacity="0.6" transform="rotate(-8 681.7 196.1)"/>
<ellipse cx="665.4" cy="221.3" rx="6.5" ry="8.1" fill="#400000" opacity="0.6" transform="rotate(0 665.4 221.3)"/>
<ellipse cx="697.9" cy="213.2" rx="9.8" ry="4.9" fill="#400000" opacity="0.6" transform="rotate(-30 697.9 213.2)"/>
<ellipse cx="676.8" cy="316.1" rx="12.2" ry="6.8" fill="#400000" opacity="0.6" transform="rotate(-5 676.8 316.1)"/>
<ellipse cx="697.9" cy="362.5" rx="4.9" ry="4.1" fill="#400000" opacity="0.6" transform="rotate(0 697.9 362.5)"/>
<ellipse cx="712.6" cy="313.7" rx="4.1" ry="2.4" fill="#400000" opacity="0.6" transform="rotate(40 712.6 313.7)"/>
<ellipse cx="672.7" cy="448.3" rx="2.9" ry="15.5" fill="#400000" opacity="0.6" transform="rotate(5 672.7 448.3)"/>
<ellipse cx="668.7" cy="477.6" rx="7.3" ry="5.7" fill="#400000" opacity="0.6" transform="rotate(40 668.7 477.6)"/>
<ellipse cx="693.1" cy="433.7" rx="8.9" ry="4.9" fill="#400000" opacity="0.6" transform="rotate(20 693.1 433.7)"/>
<ellipse cx="716.6" cy="467.8" rx="4.1" ry="6.5" fill="#400000" opacity="0.6" transform="rotate(10 716.6 467.8)"/>
<ellipse cx="690.6" cy="546.4" rx="9.8" ry="5.7" fill="#400000" opacity="0.6" transform="rotate(-30 690.6 546.4)"/>
<ellipse cx="702.8" cy="569.1" rx="7.3" ry="4.1" fill="#400000" opacity="0.6" transform="rotate(30 702.8 569.1)"/>
<ellipse cx="683.3" cy="591.1" rx="7.3" ry="6.5" fill="#400000" opacity="0.6" transform="rotate(45 683.3 591.1)"/>
<ellipse cx="719.1" cy="592.7" rx="9.8" ry="4.9" fill="#400000" opacity="0.6" transform="rotate(-50 719.1 592.7)"/>
<ellipse cx="681.7" cy="692.4" rx="3.6" ry="2.6" fill="#400000" opacity="0.6" transform="rotate(0 681.7 692.4)"/>
<ellipse cx="699.6" cy="710.3" rx="9.8" ry="3.6" fill="#400000" opacity="0.6" transform="rotate(-20 699.6 710.3)"/>
</g></g>
<g filter="url(#yb)">
<ellipse cx="712.6" cy="336.4" rx="2.3" ry="3.6" fill="#f0a010" opacity="0.75"/>
<ellipse cx="680.0" cy="299.0" rx="2.3" ry="1.3" fill="#f0a010" opacity="0.75"/>
<ellipse cx="663.0" cy="324.2" rx="1.0" ry="1.6" fill="#f0a010" opacity="0.75"/>
<ellipse cx="699.6" cy="359.2" rx="1.3" ry="1.3" fill="#f0a010" opacity="0.75"/>
<ellipse cx="704.4" cy="454.8" rx="1.3" ry="3.6" fill="#f0a010" opacity="0.75"/>
<ellipse cx="672.7" cy="468.6" rx="1.1" ry="1.6" fill="#f0a010" opacity="0.75"/>
<ellipse cx="682.5" cy="484.1" rx="0.8" ry="1.0" fill="#f0a010" opacity="0.75"/>
<ellipse cx="710.1" cy="465.4" rx="0.8" ry="1.0" fill="#f0a010" opacity="0.75"/>
</g>
<ellipse cx="667.4" cy="105.1" rx="1.6" ry="1.6" fill="#18d018"/>
<ellipse cx="675.7" cy="217.7" rx="2.7" ry="2.7" fill="#18d018"/>
<ellipse cx="689.5" cy="323.8" rx="3.2" ry="4.4" fill="#18d018"/>
<ellipse cx="680.4" cy="459.7" rx="3.3" ry="2.4" fill="#18d018"/>
<ellipse cx="729.7" cy="554.5" rx="2.0" ry="3.2" fill="#18d018"/>
</g>
<g clip-path="url(#panelB)"><g filter="url(#fxhi)"><ellipse cx="355.8" cy="53.3" rx="15.4" ry="8.4" fill="#8c4a24" transform="rotate(-15 355.8 53.3)"/>
<ellipse cx="424.2" cy="59.5" rx="15.4" ry="14.4" fill="#7a1e16" transform="rotate(0 424.2 59.5)"/>
<ellipse cx="473.0" cy="53.3" rx="14.9" ry="15.4" fill="#a85e2a" transform="rotate(-20 473.0 53.3)"/>
<path d="M-16.50,7.57 L-16.36,5.42 L-15.94,3.30 L-15.24,1.26 L-14.29,-0.67 L-13.09,-2.46 L-11.67,-4.08 L-10.04,-5.50 L-8.25,-6.69 L-6.31,-7.65 L-4.27,-8.34 L-2.15,-8.76 L-0.00,-8.90 L2.15,-8.76 L4.27,-8.34 L6.31,-7.65 L8.25,-6.69 L10.04,-5.50 L11.67,-4.08 L13.09,-2.46 L14.29,-0.67 L15.24,1.26 L15.94,3.30 L16.36,5.42 L16.50,7.56 L15.12,7.91 L13.75,8.22 L12.38,8.50 L11.00,8.75 L9.62,8.97 L8.25,9.17 L6.87,9.33 L5.50,9.46 L4.12,9.57 L2.75,9.64 L1.38,9.69 L0.00,9.70 L-1.37,9.69 L-2.75,9.64 L-4.12,9.57 L-5.50,9.46 L-6.88,9.33 L-8.25,9.17 L-9.62,8.97 L-11.00,8.75 L-12.38,8.50 L-13.75,8.22 L-15.13,7.91Z" fill="#a85e2a" stroke="#a85e2a" stroke-width="3.6" stroke-linejoin="round" transform="translate(539.4 46.0) rotate(48)"/>
<ellipse cx="602.4" cy="64.0" rx="13.7" ry="8.9" fill="#a85e2a" transform="rotate(15 602.4 64.0)"/>
<ellipse cx="361.3" cy="116.2" rx="15.4" ry="18.9" fill="#b44824" transform="rotate(-20 361.3 116.2)"/>
<ellipse cx="420.5" cy="118.2" rx="14.8" ry="11.4" fill="#e0521e" transform="rotate(-25 420.5 118.2)"/>
<ellipse cx="477.0" cy="111.8" rx="12.9" ry="17.3" fill="#b44824" transform="rotate(10 477.0 111.8)"/>
<ellipse cx="534.9" cy="112.0" rx="10.4" ry="15.4" fill="#e87424" transform="rotate(10 534.9 112.0)"/>
<ellipse cx="597.9" cy="111.6" rx="18.7" ry="15.8" fill="#b44824" transform="rotate(0 597.9 111.6)"/>
<ellipse cx="351.0" cy="716.0" rx="5.4" ry="5.4" fill="#4a1410" transform="rotate(0 351.0 716.0)"/>
<ellipse cx="357.1" cy="705.1" rx="10.4" ry="13.9" fill="#a85e2a" transform="rotate(-30 357.1 705.1)"/>
<ellipse cx="416.3" cy="716.2" rx="15.4" ry="12.4" fill="#a85e2a" transform="rotate(0 416.3 716.2)"/>
<ellipse cx="481.6" cy="715.0" rx="13.9" ry="14.4" fill="#a85e2a" transform="rotate(0 481.6 715.0)"/>
<ellipse cx="539.4" cy="714.9" rx="15.4" ry="13.4" fill="#b66c2c" transform="rotate(30 539.4 714.9)"/>
<ellipse cx="599.4" cy="713.2" rx="13.4" ry="11.4" fill="#a85e2a" transform="rotate(0 599.4 713.2)"/>
<g clip-path="url(#cc0_11)"><ellipse cx="380.5" cy="744.0" rx="3.4" ry="2.4" fill="#e87424" transform="rotate(0 380.5 744.0)"/></g></g>
<g filter="url(#fxlo)"><path d="M361.7,157.9 L361.6,158.5 L361.6,159.2 L361.7,159.9 L361.9,160.6 L362.0,161.3 L362.1,162.0 L362.3,162.7 L362.4,163.4 L362.5,164.0 L362.5,164.5 L362.5,165.0 L362.4,165.3 L362.3,165.6 L362.2,166.0 L362.0,166.6 L361.8,167.2 L361.5,167.9 L361.2,168.6 L360.9,169.4 L360.5,170.2 L360.1,171.1 L359.7,172.0 L359.3,172.9 L358.8,173.8 L358.4,174.7 L358.0,175.5 L357.5,176.4 L357.0,177.3 L356.5,178.3 L355.8,179.3 L355.2,180.4 L354.5,181.5 L353.8,182.5 L353.2,183.6 L352.6,184.6 L352.0,185.5 L351.6,186.4 L351.2,187.2 L351.1,187.9 L354.9,191.1 L355.6,190.8 L356.3,190.3 L357.1,189.8 L357.9,189.1 L358.8,188.3 L359.7,187.5 L360.7,186.5 L361.7,185.6 L362.6,184.6 L363.6,183.6 L364.5,182.5 L365.3,181.5 L366.0,180.5 L366.7,179.5 L367.3,178.5 L367.9,177.5 L368.5,176.5 L369.1,175.5 L369.6,174.4 L370.1,173.3 L370.5,172.2 L370.9,171.1 L371.2,170.0 L371.4,168.8 L371.6,167.6 L371.7,166.4 L371.7,165.0 L371.4,163.7 L371.1,162.5 L370.7,161.4 L370.2,160.5 L369.7,159.6 L369.1,158.8 L368.6,158.0 L368.1,157.4 L367.6,156.9 L367.1,156.5 L366.7,156.3 L366.3,156.1Z" fill="#c85426" stroke="#c85426" stroke-width="1.5" stroke-linejoin="round"/>
<ellipse cx="412.6" cy="161.7" rx="17.9" ry="9.9" fill="#9a2c1c" transform="rotate(20 412.6 161.7)"/>
<g clip-path="url(#cc1_2)"><ellipse cx="431.5" cy="145.2" rx="10.4" ry="2.4" fill="#e87424" transform="rotate(0 431.5 145.2)"/></g>
<ellipse cx="480.0" cy="170.0" rx="7.4" ry="5.4" fill="#4a1410" transform="rotate(0 480.0 170.0)"/>
<path d="M-18.00,5.44 L-17.85,3.89 L-17.39,2.38 L-16.63,0.91 L-15.59,-0.48 L-14.28,-1.77 L-12.73,-2.93 L-10.96,-3.95 L-9.00,-4.81 L-6.89,-5.50 L-4.66,-6.00 L-2.35,-6.30 L-0.00,-6.40 L2.35,-6.30 L4.66,-6.00 L6.89,-5.50 L9.00,-4.81 L10.96,-3.95 L12.73,-2.93 L14.28,-1.77 L15.59,-0.48 L16.63,0.91 L17.39,2.38 L17.85,3.89 L18.00,5.44 L16.50,5.44 L15.00,5.44 L13.50,5.44 L12.00,5.44 L10.50,5.44 L9.00,5.44 L7.50,5.44 L6.00,5.44 L4.50,5.44 L3.00,5.44 L1.50,5.44 L0.00,5.44 L-1.50,5.44 L-3.00,5.44 L-4.50,5.44 L-6.00,5.44 L-7.50,5.44 L-9.00,5.44 L-10.50,5.44 L-12.00,5.44 L-13.50,5.44 L-15.00,5.44 L-16.50,5.44Z" fill="#e87424" stroke="#e87424" stroke-width="3.6" stroke-linejoin="round" transform="translate(476.7 184.4) rotate(206)"/>
<g clip-path="url(#cc2_2)"><ellipse cx="457.6" cy="201.3" rx="8.4" ry="1.9" fill="#dc3a1e" transform="rotate(0 457.6 201.3)"/></g>
<ellipse cx="532.7" cy="162.7" rx="10.4" ry="6.4" fill="#7a1e16" transform="rotate(0 532.7 162.7)"/>
<ellipse cx="534.4" cy="176.1" rx="13.4" ry="7.4" fill="#e87424" transform="rotate(-10 534.4 176.1)"/>
<ellipse cx="552.9" cy="165.2" rx="4.9" ry="8.4" fill="#e87424" transform="rotate(-15 552.9 165.2)"/>
<ellipse cx="597.7" cy="177.0" rx="17.4" ry="14.9" fill="#c85426" transform="rotate(0 597.7 177.0)"/>
<ellipse cx="343.5" cy="235.0" rx="5.4" ry="5.4" fill="#7a1e16" transform="rotate(0 343.5 235.0)"/>
<ellipse cx="354.0" cy="235.0" rx="7.4" ry="7.4" fill="#4a1410" transform="rotate(0 354.0 235.0)"/>
<ellipse cx="365.7" cy="235.0" rx="5.4" ry="10.9" fill="#e87424" transform="rotate(5 365.7 235.0)"/>
<path d="M-17.00,5.87 L-16.85,4.20 L-16.42,2.56 L-15.71,0.98 L-14.72,-0.52 L-13.49,-1.91 L-12.02,-3.16 L-10.35,-4.26 L-8.50,-5.19 L-6.51,-5.93 L-4.40,-6.47 L-2.22,-6.79 L-0.00,-6.90 L2.22,-6.79 L4.40,-6.47 L6.51,-5.93 L8.50,-5.19 L10.35,-4.26 L12.02,-3.16 L13.49,-1.91 L14.72,-0.52 L15.71,0.98 L16.42,2.56 L16.85,4.20 L17.00,5.86 L15.58,5.75 L14.17,5.65 L12.75,5.56 L11.33,5.48 L9.92,5.41 L8.50,5.35 L7.08,5.29 L5.67,5.25 L4.25,5.22 L2.83,5.19 L1.42,5.18 L0.00,5.17 L-1.42,5.18 L-2.83,5.19 L-4.25,5.22 L-5.67,5.25 L-7.08,5.29 L-8.50,5.35 L-9.92,5.41 L-11.33,5.48 L-12.75,5.56 L-14.17,5.65 L-15.58,5.75Z" fill="#e87424" stroke="#e87424" stroke-width="3.6" stroke-linejoin="round" transform="translate(418.2 241.1) rotate(175)"/>
<path d="M-19.00,7.99 L-18.84,5.72 L-18.35,3.49 L-17.55,1.34 L-16.45,-0.70 L-15.07,-2.60 L-13.44,-4.31 L-11.57,-5.81 L-9.50,-7.07 L-7.27,-8.08 L-4.92,-8.81 L-2.48,-9.25 L-0.00,-9.40 L2.48,-9.25 L4.92,-8.81 L7.27,-8.08 L9.50,-7.07 L11.57,-5.81 L13.44,-4.31 L15.07,-2.60 L16.45,-0.70 L17.55,1.34 L18.35,3.49 L18.84,5.72 L19.00,7.99 L17.42,7.84 L15.83,7.70 L14.25,7.58 L12.67,7.47 L11.08,7.37 L9.50,7.29 L7.92,7.21 L6.33,7.15 L4.75,7.11 L3.17,7.08 L1.58,7.06 L0.00,7.05 L-1.58,7.06 L-3.17,7.08 L-4.75,7.11 L-6.33,7.15 L-7.92,7.21 L-9.50,7.29 L-11.08,7.37 L-12.67,7.47 L-14.25,7.58 L-15.83,7.70 L-17.42,7.84Z" fill="#e87424" stroke="#e87424" stroke-width="3.6" stroke-linejoin="round" transform="translate(478.0 235.0) rotate(172)"/>
<ellipse cx="536.0" cy="232.0" rx="9.4" ry="7.4" fill="#4a1410" transform="rotate(0 536.0 232.0)"/>
<ellipse cx="531.5" cy="220.6" rx="9.9" ry="5.4" fill="#e87424" transform="rotate(10 531.5 220.6)"/>
<ellipse cx="541.1" cy="242.5" rx="12.9" ry="8.4" fill="#c85426" transform="rotate(-15 541.1 242.5)"/>
<g clip-path="url(#cc3_3)"><ellipse cx="565.0" cy="218.0" rx="6.4" ry="8.4" fill="#c85426" transform="rotate(20 565.0 218.0)"/></g>
<ellipse cx="598.0" cy="236.0" rx="10.4" ry="9.4" fill="#4a1410" transform="rotate(0 598.0 236.0)"/>
<ellipse cx="601.6" cy="222.3" rx="12.9" ry="6.4" fill="#f08c28" transform="rotate(40 601.6 222.3)"/>
<ellipse cx="587.3" cy="240.8" rx="6.4" ry="3.4" fill="#e87424" transform="rotate(-10 587.3 240.8)"/>
<g clip-path="url(#cc4_3)"><ellipse cx="573.0" cy="260.0" rx="3.4" ry="3.4" fill="#dc3a1e" transform="rotate(0 573.0 260.0)"/></g>
<path d="M357.7,275.0 L358.3,276.0 L359.3,277.0 L360.4,278.1 L361.6,279.3 L362.7,280.4 L363.6,281.5 L364.2,282.4 L364.4,283.0 L364.6,283.7 L364.8,284.6 L364.9,285.5 L364.9,286.4 L364.9,287.3 L364.9,288.2 L364.7,289.0 L364.5,289.7 L364.3,290.4 L363.9,291.4 L363.4,292.4 L362.8,293.4 L362.2,294.5 L361.5,295.4 L360.8,296.3 L360.1,297.1 L359.2,298.0 L358.1,298.9 L357.0,299.8 L356.0,300.5 L355.1,301.2 L354.2,301.6 L353.5,301.9 L352.9,302.1 L351.9,302.1 L350.2,301.5 L348.0,300.6 L345.7,299.4 L343.4,298.1 L341.2,296.9 L339.3,295.9 L337.7,295.5 L334.3,300.5 L335.2,301.7 L336.7,303.2 L338.5,304.9 L340.7,306.8 L343.1,308.7 L345.6,310.4 L348.2,311.9 L351.1,312.9 L354.1,313.2 L356.8,313.0 L359.4,312.4 L361.7,311.5 L363.8,310.5 L365.7,309.3 L367.3,308.1 L368.9,306.9 L370.5,305.5 L372.0,303.8 L373.3,302.1 L374.5,300.2 L375.5,298.3 L376.3,296.4 L377.0,294.4 L377.5,292.3 L377.7,290.2 L377.7,288.2 L377.5,286.1 L377.1,284.2 L376.5,282.3 L375.7,280.4 L374.8,278.7 L373.6,277.0 L372.0,275.3 L370.2,273.9 L368.5,272.8 L366.7,271.9 L365.0,271.1 L363.5,270.5 L362.2,270.1 L361.3,270.0Z" fill="#f08c28" stroke="#f08c28" stroke-width="1.5" stroke-linejoin="round"/>
<path d="M-12.50,8.84 L-12.39,6.33 L-12.07,3.86 L-11.55,1.48 L-10.83,-0.78 L-9.92,-2.87 L-8.84,-4.76 L-7.61,-6.42 L-6.25,-7.82 L-4.78,-8.94 L-3.24,-9.74 L-1.63,-10.24 L-0.00,-10.40 L1.63,-10.24 L3.24,-9.74 L4.78,-8.94 L6.25,-7.82 L7.61,-6.42 L8.84,-4.76 L9.92,-2.87 L10.83,-0.78 L11.55,1.48 L12.07,3.86 L12.39,6.33 L12.50,8.84 L11.46,9.01 L10.42,9.16 L9.38,9.29 L8.33,9.42 L7.29,9.53 L6.25,9.62 L5.21,9.70 L4.17,9.76 L3.12,9.81 L2.08,9.85 L1.04,9.87 L0.00,9.88 L-1.04,9.87 L-2.08,9.85 L-3.12,9.81 L-4.17,9.76 L-5.21,9.70 L-6.25,9.62 L-7.29,9.53 L-8.33,9.42 L-9.38,9.29 L-10.42,9.16 L-11.46,9.01Z" fill="#e87424" stroke="#e87424" stroke-width="3.6" stroke-linejoin="round" transform="translate(412.0 290.0) rotate(-100)"/>
<ellipse cx="430.6" cy="278.5" rx="4.9" ry="7.9" fill="#b44824" transform="rotate(-20 430.6 278.5)"/>
<g clip-path="url(#cc2_4)"><ellipse cx="458.2" cy="269.9" rx="12.4" ry="7.4" fill="#e87424" transform="rotate(-15 458.2 269.9)"/></g>
<path d="M-11.50,4.17 L-11.40,2.98 L-11.11,1.82 L-10.62,0.70 L-9.96,-0.37 L-9.12,-1.35 L-8.13,-2.24 L-7.00,-3.03 L-5.75,-3.69 L-4.40,-4.21 L-2.98,-4.59 L-1.50,-4.82 L-0.00,-4.90 L1.50,-4.82 L2.98,-4.59 L4.40,-4.21 L5.75,-3.69 L7.00,-3.03 L8.13,-2.24 L9.12,-1.35 L9.96,-0.37 L10.62,0.70 L11.11,1.82 L11.40,2.98 L11.50,4.16 L10.54,3.93 L9.58,3.72 L8.62,3.52 L7.67,3.35 L6.71,3.20 L5.75,3.06 L4.79,2.95 L3.83,2.86 L2.88,2.79 L1.92,2.74 L0.96,2.71 L0.00,2.70 L-0.96,2.71 L-1.92,2.74 L-2.88,2.79 L-3.83,2.86 L-4.79,2.95 L-5.75,3.06 L-6.71,3.20 L-7.67,3.35 L-8.62,3.52 L-9.58,3.72 L-10.54,3.93Z" fill="#c85426" stroke="#c85426" stroke-width="3.6" stroke-linejoin="round" transform="translate(478.0 280.0) rotate(-15)"/>
<path d="M-12.00,4.17 L-11.90,2.98 L-11.59,1.82 L-11.09,0.70 L-10.39,-0.37 L-9.52,-1.35 L-8.49,-2.24 L-7.31,-3.03 L-6.00,-3.69 L-4.59,-4.21 L-3.11,-4.59 L-1.57,-4.82 L-0.00,-4.90 L1.57,-4.82 L3.11,-4.59 L4.59,-4.21 L6.00,-3.69 L7.31,-3.03 L8.49,-2.24 L9.52,-1.35 L10.39,-0.37 L11.09,0.70 L11.59,1.82 L11.90,2.98 L12.00,4.16 L11.00,3.98 L10.00,3.81 L9.00,3.65 L8.00,3.51 L7.00,3.39 L6.00,3.28 L5.00,3.19 L4.00,3.12 L3.00,3.06 L2.00,3.02 L1.00,3.00 L0.00,2.99 L-1.00,3.00 L-2.00,3.02 L-3.00,3.06 L-4.00,3.12 L-5.00,3.19 L-6.00,3.28 L-7.00,3.39 L-8.00,3.51 L-9.00,3.65 L-10.00,3.81 L-11.00,3.98Z" fill="#c85426" stroke="#c85426" stroke-width="3.6" stroke-linejoin="round" transform="translate(475.5 302.0) rotate(211)"/>
<path d="M531.2,279.6 L532.2,279.9 L533.4,280.0 L534.8,280.0 L536.3,280.0 L537.8,280.1 L539.2,280.1 L540.6,280.3 L541.6,280.5 L542.2,280.7 L542.4,281.0 L542.6,281.3 L542.9,281.8 L543.3,282.4 L543.8,283.3 L544.2,284.2 L544.6,285.3 L545.0,286.4 L545.3,287.5 L545.6,288.6 L545.8,289.6 L546.0,290.5 L546.1,291.5 L546.2,292.6 L546.2,293.8 L546.2,295.0 L546.1,296.1 L546.0,297.2 L545.8,298.3 L545.6,299.3 L545.5,300.0 L545.3,300.6 L544.9,301.4 L544.4,302.2 L543.7,303.1 L542.9,304.1 L542.1,305.0 L541.3,305.9 L540.6,306.7 L540.0,307.6 L539.6,308.4 L542.4,311.6 L543.1,311.5 L543.9,311.3 L545.0,310.8 L546.1,310.3 L547.4,309.6 L548.7,308.8 L550.0,307.9 L551.3,306.8 L552.5,305.5 L553.5,304.0 L554.3,302.5 L554.9,301.0 L555.5,299.4 L555.9,297.8 L556.2,296.1 L556.4,294.4 L556.5,292.7 L556.5,291.0 L556.4,289.3 L556.2,287.6 L555.8,286.0 L555.3,284.4 L554.7,282.8 L554.0,281.2 L553.2,279.6 L552.2,278.1 L551.1,276.6 L549.9,275.3 L548.4,274.1 L546.6,273.0 L544.5,272.4 L542.4,272.2 L540.5,272.3 L538.7,272.6 L536.9,273.0 L535.2,273.5 L533.8,274.0 L532.5,274.5 L531.5,274.9 L530.8,275.4Z" fill="#9a2c1c" stroke="#9a2c1c" stroke-width="1.5" stroke-linejoin="round"/>
<ellipse cx="536.1" cy="298.6" rx="8.4" ry="6.4" fill="#f08c28" transform="rotate(0 536.1 298.6)"/>
<path d="M596.9,277.5 L597.7,278.4 L599.0,279.3 L600.5,280.3 L602.1,281.3 L603.6,282.3 L604.9,283.3 L605.8,284.1 L606.3,284.8 L606.6,285.5 L606.9,286.4 L607.2,287.3 L607.5,288.2 L607.6,289.1 L607.6,289.8 L607.6,290.4 L607.5,290.7 L607.3,290.9 L607.1,291.3 L606.7,292.0 L606.2,292.8 L605.5,293.8 L604.6,294.8 L603.8,295.8 L602.9,296.8 L602.0,297.7 L601.1,298.7 L600.1,299.6 L599.0,300.5 L597.9,301.4 L596.8,302.3 L595.7,303.0 L594.8,303.7 L593.7,304.3 L592.4,304.8 L590.9,305.3 L589.2,305.8 L587.6,306.2 L586.0,306.7 L584.7,307.2 L583.7,307.8 L584.3,313.2 L585.3,313.6 L586.6,313.9 L588.2,314.1 L590.0,314.3 L592.0,314.4 L594.1,314.3 L596.3,314.1 L598.4,313.7 L600.4,313.1 L602.3,312.4 L604.1,311.6 L605.8,310.7 L607.5,309.7 L609.2,308.6 L610.7,307.4 L612.1,306.2 L613.4,305.0 L614.7,303.6 L616.0,302.2 L617.2,300.6 L618.3,298.8 L619.3,296.9 L620.1,294.7 L620.5,292.3 L620.6,290.0 L620.2,287.8 L619.7,285.7 L618.9,283.8 L617.9,282.0 L616.7,280.2 L615.3,278.7 L613.7,277.2 L611.8,275.8 L609.7,274.8 L607.5,274.0 L605.4,273.4 L603.5,272.9 L601.7,272.6 L600.2,272.5 L599.1,272.5Z" fill="#f08c28" stroke="#f08c28" stroke-width="1.5" stroke-linejoin="round"/>
<g clip-path="url(#cc4_4)"><ellipse cx="617.6" cy="316.3" rx="11.4" ry="5.4" fill="#e87424" transform="rotate(-15 617.6 316.3)"/></g>
<path d="M346.5,333.7 L345.6,334.2 L344.6,334.9 L343.5,336.0 L342.2,337.2 L340.9,338.6 L339.6,340.2 L338.3,341.8 L337.2,343.6 L336.2,345.5 L335.4,347.6 L335.1,349.6 L334.9,351.5 L335.0,353.4 L335.2,355.3 L335.6,357.2 L336.2,359.0 L336.9,360.7 L337.8,362.4 L338.8,364.0 L340.0,365.5 L341.4,366.8 L342.8,368.1 L344.4,369.2 L346.1,370.3 L348.0,371.3 L349.9,372.1 L352.0,372.8 L354.2,373.2 L356.5,373.3 L359.0,373.1 L361.4,372.3 L363.7,371.2 L365.8,369.8 L367.8,368.3 L369.6,366.7 L371.4,365.1 L372.9,363.6 L374.2,362.2 L375.2,361.0 L375.9,360.0 L373.1,356.0 L371.8,356.3 L370.3,357.1 L368.6,358.0 L366.8,359.0 L364.9,360.1 L363.0,361.1 L361.2,362.0 L359.6,362.6 L358.3,362.9 L357.6,362.9 L357.0,362.8 L356.2,362.5 L355.3,362.1 L354.3,361.7 L353.3,361.1 L352.3,360.4 L351.3,359.6 L350.4,358.9 L349.6,358.1 L349.0,357.5 L348.5,356.9 L348.0,356.2 L347.5,355.5 L347.1,354.6 L346.7,353.7 L346.3,352.8 L346.0,351.9 L345.8,351.0 L345.7,350.1 L345.6,349.4 L345.5,348.7 L345.8,347.6 L346.2,346.3 L346.9,344.8 L347.6,343.2 L348.4,341.7 L349.1,340.2 L349.8,338.7 L350.3,337.4 L350.5,336.3Z" fill="#c85426" stroke="#c85426" stroke-width="1.5" stroke-linejoin="round"/>
<g clip-path="url(#cc0_5)"><ellipse cx="331.2" cy="364.8" rx="4.4" ry="7.4" fill="#e87424" transform="rotate(-20 331.2 364.8)"/></g>
<g clip-path="url(#cc0_5)"><ellipse cx="369.4" cy="381.5" rx="11.4" ry="3.4" fill="#e87424" transform="rotate(0 369.4 381.5)"/></g>
<path d="M-15.50,6.72 L-15.37,4.81 L-14.97,2.93 L-14.32,1.12 L-13.42,-0.59 L-12.30,-2.18 L-10.96,-3.62 L-9.44,-4.88 L-7.75,-5.94 L-5.93,-6.79 L-4.01,-7.40 L-2.02,-7.77 L-0.00,-7.90 L2.02,-7.77 L4.01,-7.40 L5.93,-6.79 L7.75,-5.94 L9.44,-4.88 L10.96,-3.62 L12.30,-2.18 L13.42,-0.59 L14.32,1.12 L14.97,2.93 L15.37,4.81 L15.50,6.71 L14.21,6.71 L12.92,6.71 L11.62,6.71 L10.33,6.71 L9.04,6.71 L7.75,6.71 L6.46,6.71 L5.17,6.71 L3.88,6.71 L2.58,6.71 L1.29,6.71 L0.00,6.71 L-1.29,6.71 L-2.58,6.71 L-3.88,6.71 L-5.17,6.71 L-6.46,6.71 L-7.75,6.71 L-9.04,6.71 L-10.33,6.71 L-11.62,6.71 L-12.92,6.71 L-14.21,6.71Z" fill="#e87424" stroke="#e87424" stroke-width="3.6" stroke-linejoin="round" transform="translate(422.4 337.7) rotate(10)"/>
<path d="M-17.00,7.14 L-16.85,5.11 L-16.42,3.12 L-15.71,1.19 L-14.72,-0.63 L-13.49,-2.32 L-12.02,-3.85 L-10.35,-5.19 L-8.50,-6.32 L-6.51,-7.22 L-4.40,-7.87 L-2.22,-8.27 L-0.00,-8.40 L2.22,-8.27 L4.40,-7.87 L6.51,-7.22 L8.50,-6.32 L10.35,-5.19 L12.02,-3.85 L13.49,-2.32 L14.72,-0.63 L15.71,1.19 L16.42,3.12 L16.85,5.11 L17.00,7.14 L15.58,7.14 L14.17,7.14 L12.75,7.14 L11.33,7.14 L9.92,7.14 L8.50,7.14 L7.08,7.14 L5.67,7.14 L4.25,7.14 L2.83,7.14 L1.42,7.14 L0.00,7.14 L-1.42,7.14 L-2.83,7.14 L-4.25,7.14 L-5.67,7.14 L-7.08,7.14 L-8.50,7.14 L-9.92,7.14 L-11.33,7.14 L-12.75,7.14 L-14.17,7.14 L-15.58,7.14Z" fill="#c85426" stroke="#c85426" stroke-width="3.6" stroke-linejoin="round" transform="translate(417.5 364.8) rotate(175)"/>
<g clip-path="url(#cc1_5)"><ellipse cx="445.4" cy="330.3" rx="2.4" ry="6.4" fill="#e87424" transform="rotate(0 445.4 330.3)"/></g>
<path d="M496.0,338.4 L494.9,337.5 L493.2,336.5 L491.2,335.3 L488.8,334.0 L486.2,332.9 L483.4,331.9 L480.5,331.1 L477.5,331.0 L474.6,331.4 L471.9,332.2 L469.4,333.3 L467.1,334.7 L464.9,336.2 L462.9,337.8 L461.1,339.6 L459.5,341.5 L458.1,343.6 L457.0,345.9 L456.2,348.2 L455.6,350.7 L455.3,353.1 L455.2,355.6 L455.5,358.2 L456.2,360.7 L457.3,363.0 L458.8,365.1 L460.4,367.0 L462.3,368.7 L464.2,370.1 L466.3,371.4 L468.5,372.4 L470.8,373.3 L473.5,373.8 L476.1,373.8 L478.7,373.6 L481.2,373.3 L483.5,372.8 L485.5,372.3 L487.0,371.8 L488.2,371.3 L487.8,365.7 L486.5,365.3 L484.7,365.2 L482.7,365.1 L480.6,365.0 L478.6,364.8 L476.7,364.6 L475.2,364.2 L474.2,363.7 L473.2,363.1 L472.1,362.3 L471.0,361.3 L470.0,360.2 L469.1,359.2 L468.4,358.2 L468.0,357.3 L467.8,356.7 L467.7,356.1 L467.7,355.2 L467.7,354.1 L467.9,352.9 L468.2,351.7 L468.6,350.5 L469.0,349.4 L469.5,348.5 L470.2,347.5 L471.2,346.4 L472.3,345.2 L473.6,344.0 L475.0,343.0 L476.3,342.1 L477.6,341.5 L478.5,341.0 L479.7,340.8 L481.4,340.9 L483.5,341.3 L485.9,341.8 L488.3,342.5 L490.5,343.1 L492.5,343.6 L494.0,343.6Z" fill="#c85426" stroke="#c85426" stroke-width="1.5" stroke-linejoin="round"/>
<path d="M522.6,342.1 L523.7,342.2 L525.1,342.1 L526.6,341.8 L528.2,341.5 L529.8,341.2 L531.5,340.9 L533.0,340.7 L534.3,340.7 L535.4,340.8 L536.0,341.0 L536.7,341.4 L537.6,341.9 L538.5,342.5 L539.5,343.3 L540.5,344.2 L541.6,345.1 L542.6,346.1 L543.5,347.1 L544.4,348.1 L545.2,349.1 L545.9,350.0 L546.5,351.0 L547.2,352.1 L547.8,353.1 L548.3,354.2 L548.8,355.3 L549.2,356.3 L549.5,357.2 L549.8,358.1 L549.9,358.7 L550.0,359.2 L549.9,360.1 L549.5,361.2 L549.1,362.4 L548.4,363.8 L547.8,365.1 L547.1,366.4 L546.6,367.6 L546.1,368.8 L546.0,369.8 L549.6,372.2 L550.4,371.8 L551.3,371.2 L552.3,370.3 L553.4,369.2 L554.6,368.0 L555.8,366.6 L556.9,365.1 L557.9,363.4 L558.8,361.6 L559.3,359.5 L559.4,357.5 L559.4,355.7 L559.1,353.8 L558.7,352.0 L558.2,350.3 L557.5,348.5 L556.7,346.9 L555.8,345.3 L554.9,343.8 L553.8,342.3 L552.7,341.0 L551.5,339.6 L550.1,338.3 L548.6,337.0 L547.1,335.8 L545.4,334.7 L543.7,333.7 L541.8,332.9 L539.9,332.2 L537.8,331.8 L535.5,331.7 L533.3,332.0 L531.3,332.6 L529.3,333.3 L527.5,334.1 L525.8,334.9 L524.3,335.8 L523.0,336.5 L522.1,337.2 L521.4,337.9Z" fill="#7a1e16" stroke="#7a1e16" stroke-width="1.5" stroke-linejoin="round"/>
<path d="M544.4,342.2 L544.4,343.0 L544.7,343.8 L545.2,344.8 L545.6,345.8 L546.2,346.9 L546.8,348.0 L547.4,349.1 L547.9,350.2 L548.5,351.3 L548.9,352.3 L549.2,353.1 L549.5,353.9 L549.5,354.4 L549.6,354.9 L549.6,355.4 L549.6,356.0 L549.5,356.6 L549.5,357.2 L549.4,357.8 L549.3,358.4 L549.2,359.1 L549.1,359.8 L549.0,360.5 L548.8,361.1 L548.7,361.8 L548.6,362.4 L548.6,362.8 L548.5,363.2 L548.4,363.7 L548.2,364.3 L547.9,364.8 L547.7,365.4 L547.4,366.1 L547.1,366.7 L546.8,367.3 L546.6,367.9 L546.4,368.5 L546.2,369.1 L546.2,369.7 L549.4,372.3 L549.9,372.3 L550.3,372.2 L550.9,372.0 L551.5,371.7 L552.1,371.3 L552.8,370.9 L553.5,370.4 L554.2,369.8 L554.9,369.1 L555.6,368.4 L556.3,367.5 L556.9,366.6 L557.4,365.6 L557.8,364.8 L558.1,363.9 L558.4,363.1 L558.7,362.1 L559.0,361.1 L559.2,360.0 L559.3,358.9 L559.4,357.8 L559.4,356.6 L559.4,355.4 L559.2,354.1 L558.9,352.9 L558.5,351.6 L557.9,350.3 L557.1,349.0 L556.3,347.9 L555.4,346.7 L554.5,345.6 L553.5,344.6 L552.6,343.6 L551.6,342.7 L550.7,341.9 L549.8,341.1 L549.0,340.6 L548.3,340.1 L547.6,339.8Z" fill="#e87424" stroke="#e87424" stroke-width="1.5" stroke-linejoin="round"/>
<path d="M-17.80,5.87 L-17.65,4.20 L-17.19,2.56 L-16.45,0.98 L-15.42,-0.52 L-14.12,-1.91 L-12.59,-3.16 L-10.84,-4.26 L-8.90,-5.19 L-6.81,-5.93 L-4.61,-6.47 L-2.32,-6.79 L-0.00,-6.90 L2.32,-6.79 L4.61,-6.47 L6.81,-5.93 L8.90,-5.19 L10.84,-4.26 L12.59,-3.16 L14.12,-1.91 L15.42,-0.52 L16.45,0.98 L17.19,2.56 L17.65,4.20 L17.80,5.86 L16.32,5.87 L14.83,5.87 L13.35,5.87 L11.87,5.87 L10.38,5.87 L8.90,5.87 L7.42,5.87 L5.93,5.87 L4.45,5.87 L2.97,5.87 L1.48,5.87 L0.00,5.87 L-1.48,5.87 L-2.97,5.87 L-4.45,5.87 L-5.93,5.87 L-7.42,5.87 L-8.90,5.87 L-10.38,5.87 L-11.87,5.87 L-13.35,5.87 L-14.83,5.87 L-16.32,5.87Z" fill="#e87424" stroke="#e87424" stroke-width="3.6" stroke-linejoin="round" transform="translate(584.3 356.6) rotate(249)"/>
<path d="M597.8,332.7 L598.2,333.5 L598.9,334.3 L599.7,335.2 L600.7,336.1 L601.7,337.0 L602.8,338.0 L603.9,338.9 L605.0,339.9 L606.0,340.8 L607.0,341.7 L607.8,342.6 L608.4,343.3 L608.9,343.9 L609.3,344.5 L609.6,345.1 L609.9,345.7 L610.2,346.2 L610.5,346.7 L610.7,347.2 L610.9,347.7 L611.0,348.2 L611.2,348.7 L611.4,349.2 L611.5,349.8 L611.7,350.3 L611.8,350.8 L611.9,351.2 L612.0,351.8 L612.0,352.5 L611.9,353.3 L611.9,354.2 L611.7,355.2 L611.6,356.2 L611.5,357.2 L611.4,358.1 L611.3,359.0 L611.2,359.9 L611.3,360.7 L611.5,361.4 L615.5,362.6 L616.0,362.3 L616.5,361.9 L617.1,361.3 L617.6,360.5 L618.2,359.7 L618.8,358.8 L619.3,357.8 L619.9,356.7 L620.4,355.6 L620.8,354.4 L621.2,353.2 L621.5,351.9 L621.6,350.6 L621.6,349.4 L621.6,348.4 L621.5,347.3 L621.3,346.3 L621.1,345.2 L620.7,344.1 L620.3,343.1 L619.8,342.1 L619.2,341.0 L618.6,340.1 L617.8,339.1 L617.0,338.2 L616.1,337.3 L615.0,336.3 L613.8,335.4 L612.5,334.6 L611.2,333.8 L609.8,333.0 L608.3,332.3 L606.9,331.6 L605.6,330.9 L604.3,330.4 L603.0,329.9 L602.0,329.6 L601.0,329.3 L600.2,329.3Z" fill="#e87424" stroke="#e87424" stroke-width="1.5" stroke-linejoin="round"/>
<path d="M350.9,389.9 C354.6,386.2 354.6,387.0 362.0,388.6 C369.4,390.2 367.2,388.6 373.1,394.8 C379.0,401.0 377.1,398.9 379.8,407.1 C382.5,415.3 382.2,411.7 381.2,419.5 C380.2,427.3 381.6,424.9 376.8,430.6 C372.0,436.3 373.1,435.1 366.9,436.7 C360.7,438.3 362.4,438.0 358.3,435.5 C354.2,433.0 355.4,433.8 354.6,429.3 C353.8,424.8 354.6,426.8 355.8,421.9 C357.0,417.0 358.3,419.0 358.3,414.5 C358.3,410.0 358.3,413.3 355.8,408.4 C353.3,403.5 352.5,405.9 350.9,399.7 C349.3,393.5 347.2,393.6 350.9,389.9Z" fill="#b44824"/>
<ellipse cx="341.0" cy="419.5" rx="2.9" ry="9.4" fill="#7a1e16" transform="rotate(10 341.0 419.5)"/>
<path d="M-13.20,3.74 L-13.09,2.68 L-12.75,1.63 L-12.20,0.62 L-11.43,-0.33 L-10.47,-1.22 L-9.33,-2.02 L-8.04,-2.72 L-6.60,-3.31 L-5.05,-3.78 L-3.42,-4.12 L-1.72,-4.33 L-0.00,-4.40 L1.72,-4.33 L3.42,-4.12 L5.05,-3.78 L6.60,-3.31 L8.04,-2.72 L9.33,-2.02 L10.47,-1.22 L11.43,-0.33 L12.20,0.62 L12.75,1.63 L13.09,2.68 L13.20,3.74 L12.10,3.74 L11.00,3.74 L9.90,3.74 L8.80,3.74 L7.70,3.74 L6.60,3.74 L5.50,3.74 L4.40,3.74 L3.30,3.74 L2.20,3.74 L1.10,3.74 L0.00,3.74 L-1.10,3.74 L-2.20,3.74 L-3.30,3.74 L-4.40,3.74 L-5.50,3.74 L-6.60,3.74 L-7.70,3.74 L-8.80,3.74 L-9.90,3.74 L-11.00,3.74 L-12.10,3.74Z" fill="#e87424" stroke="#e87424" stroke-width="3.6" stroke-linejoin="round" transform="translate(409.4 400.2) rotate(-21)"/>
<path d="M428.0,403.2 L427.9,404.2 L428.0,405.4 L428.3,406.6 L428.7,407.9 L429.1,409.2 L429.5,410.5 L429.9,411.8 L430.3,413.1 L430.5,414.3 L430.7,415.3 L430.7,416.1 L430.6,416.5 L430.5,416.6 L430.3,416.7 L430.1,417.2 L429.8,417.7 L429.5,418.2 L429.1,418.8 L428.7,419.4 L428.2,420.1 L427.7,420.8 L427.1,421.4 L426.5,422.1 L425.9,422.7 L425.2,423.3 L424.7,423.8 L424.1,424.3 L423.3,424.8 L422.2,425.4 L420.9,426.0 L419.4,426.6 L417.8,427.1 L416.2,427.7 L414.6,428.2 L413.1,428.8 L411.7,429.3 L410.4,429.9 L409.3,430.5 L408.4,431.3 L409.6,436.7 L410.5,437.1 L411.6,437.4 L412.9,437.5 L414.4,437.6 L416.1,437.7 L417.9,437.7 L419.8,437.6 L421.7,437.5 L423.7,437.3 L425.6,437.0 L427.6,436.5 L429.5,435.9 L431.3,435.2 L432.9,434.3 L434.3,433.4 L435.6,432.3 L436.9,431.2 L438.1,430.0 L439.2,428.7 L440.2,427.4 L441.1,425.9 L441.9,424.4 L442.6,422.8 L443.1,421.1 L443.4,419.4 L443.5,417.4 L443.4,415.3 L442.9,413.3 L442.2,411.5 L441.3,409.9 L440.4,408.4 L439.4,406.9 L438.4,405.6 L437.4,404.4 L436.4,403.3 L435.4,402.4 L434.6,401.6 L433.8,401.1 L433.0,400.8Z" fill="#c85426" stroke="#c85426" stroke-width="1.5" stroke-linejoin="round"/>
<ellipse cx="475.5" cy="407.5" rx="14.9" ry="6.4" fill="#c85426" transform="rotate(-12 475.5 407.5)"/>
<ellipse cx="481.8" cy="421.0" rx="4.9" ry="10.4" fill="#c85426" transform="rotate(-5 481.8 421.0)"/>
<path d="M528.5,392.6 C530.7,388.7 530.7,389.8 536.9,390.1 C543.1,390.4 540.8,388.9 547.0,393.4 C553.2,397.9 551.5,395.9 555.4,403.5 C559.3,411.1 558.2,407.7 558.8,416.1 C559.4,424.5 560.2,421.7 557.1,428.7 C554.0,435.7 555.4,433.7 549.5,437.1 C543.6,440.5 545.0,439.9 539.4,438.8 C533.8,437.7 535.2,438.3 532.7,433.8 C530.2,429.3 530.8,431.3 531.9,425.4 C533.0,419.5 535.3,420.9 536.1,416.1 C536.9,411.3 536.4,415.9 534.4,411.1 C532.4,406.3 532.2,408.0 530.2,401.8 C528.2,395.6 526.3,396.5 528.5,392.6Z" fill="#b44824"/>
<ellipse cx="519.3" cy="419.5" rx="2.9" ry="8.4" fill="#7a1e16" transform="rotate(10 519.3 419.5)"/>
<path d="M-13.60,3.74 L-13.48,2.68 L-13.14,1.63 L-12.56,0.62 L-11.78,-0.33 L-10.79,-1.22 L-9.62,-2.02 L-8.28,-2.72 L-6.80,-3.31 L-5.20,-3.78 L-3.52,-4.12 L-1.78,-4.33 L-0.00,-4.40 L1.78,-4.33 L3.52,-4.12 L5.20,-3.78 L6.80,-3.31 L8.28,-2.72 L9.62,-2.02 L10.79,-1.22 L11.78,-0.33 L12.56,0.62 L13.14,1.63 L13.48,2.68 L13.60,3.74 L12.47,3.74 L11.33,3.74 L10.20,3.74 L9.07,3.74 L7.93,3.74 L6.80,3.74 L5.67,3.74 L4.53,3.74 L3.40,3.74 L2.27,3.74 L1.13,3.74 L0.00,3.74 L-1.13,3.74 L-2.27,3.74 L-3.40,3.74 L-4.53,3.74 L-5.67,3.74 L-6.80,3.74 L-7.93,3.74 L-9.07,3.74 L-10.20,3.74 L-11.33,3.74 L-12.47,3.74Z" fill="#e87424" stroke="#e87424" stroke-width="3.6" stroke-linejoin="round" transform="translate(591.5 399.8) rotate(-24)"/>
<path d="M609.7,402.6 L609.9,403.8 L610.4,405.1 L611.0,406.4 L611.7,407.9 L612.5,409.4 L613.2,410.8 L613.8,412.2 L614.1,413.4 L614.2,414.2 L614.1,414.5 L613.9,414.7 L613.7,415.1 L613.4,415.6 L613.1,416.2 L612.7,416.9 L612.2,417.7 L611.6,418.4 L611.0,419.2 L610.3,420.1 L609.7,420.8 L609.0,421.6 L608.3,422.3 L607.5,423.2 L606.6,424.0 L605.6,424.8 L604.7,425.5 L603.8,426.2 L603.0,426.8 L602.2,427.3 L601.7,427.7 L601.2,427.9 L600.5,428.2 L599.4,428.3 L598.2,428.4 L596.8,428.4 L595.4,428.3 L594.1,428.3 L592.8,428.3 L591.6,428.4 L590.6,428.8 L589.4,434.2 L590.0,434.9 L590.8,435.6 L591.9,436.2 L593.2,436.9 L594.7,437.6 L596.3,438.3 L598.1,438.8 L600.0,439.3 L602.1,439.5 L604.3,439.3 L606.3,438.9 L608.2,438.4 L610.0,437.6 L611.7,436.8 L613.4,435.8 L614.9,434.8 L616.4,433.7 L617.8,432.5 L619.1,431.2 L620.3,430.0 L621.3,428.7 L622.3,427.3 L623.2,425.9 L624.1,424.3 L624.8,422.7 L625.5,420.9 L625.9,419.0 L626.2,417.0 L626.2,415.0 L625.9,412.7 L625.2,410.5 L624.1,408.5 L622.8,406.8 L621.5,405.2 L620.1,403.7 L618.8,402.4 L617.4,401.3 L616.2,400.4 L615.2,399.7 L614.3,399.4Z" fill="#c85426" stroke="#c85426" stroke-width="1.5" stroke-linejoin="round"/>
<ellipse cx="354.1" cy="518.5" rx="12.9" ry="5.4" fill="#c85426" transform="rotate(-25 354.1 518.5)"/>
<ellipse cx="349.7" cy="550.6" rx="14.4" ry="9.9" fill="#b44824" transform="rotate(15 349.7 550.6)"/>
<ellipse cx="377.3" cy="541.9" rx="4.4" ry="11.4" fill="#c86424" transform="rotate(25 377.3 541.9)"/>
<g clip-path="url(#cc0_8)"><ellipse cx="384.9" cy="557.2" rx="1.9" ry="6.4" fill="#e87424" transform="rotate(10 384.9 557.2)"/></g>
<ellipse cx="408.9" cy="516.8" rx="10.9" ry="5.4" fill="#c86424" transform="rotate(-25 408.9 516.8)"/>
<circle cx="407.6" cy="539.5" r="7.5" fill="none" stroke="#4a1410" stroke-width="5"/>
<ellipse cx="427.4" cy="522.2" rx="7.4" ry="6.4" fill="#4a1410" transform="rotate(0 427.4 522.2)"/>
<ellipse cx="426.1" cy="551.8" rx="9.4" ry="4.4" fill="#4a1410" transform="rotate(-15 426.1 551.8)"/>
<ellipse cx="476.7" cy="517.3" rx="9.4" ry="4.9" fill="#c85426" transform="rotate(-15 476.7 517.3)"/>
<ellipse cx="472.5" cy="541.9" rx="6.4" ry="11.4" fill="#c86424" transform="rotate(-35 472.5 541.9)"/>
<ellipse cx="538.6" cy="537.0" rx="7.4" ry="11.4" fill="#4a1410" transform="rotate(0 538.6 537.0)"/>
<ellipse cx="522.1" cy="530.2" rx="6.4" ry="13.9" fill="#c86424" transform="rotate(15 522.1 530.2)"/>
<ellipse cx="558.8" cy="532.8" rx="4.9" ry="11.9" fill="#b44824" transform="rotate(-5 558.8 532.8)"/>
<ellipse cx="587.0" cy="521.0" rx="11.9" ry="5.9" fill="#c86424" transform="rotate(-40 587.0 521.0)"/>
<ellipse cx="584.3" cy="545.7" rx="12.4" ry="4.9" fill="#c86424" transform="rotate(45 584.3 545.7)"/>
<ellipse cx="613.4" cy="545.4" rx="10.9" ry="4.4" fill="#c86424" transform="rotate(-55 613.4 545.4)"/></g>
<g filter="url(#fxsm)"><ellipse cx="341.0" cy="467.6" rx="10.4" ry="16.4" fill="#7a1e16" transform="rotate(20 341.0 467.6)"/>
<ellipse cx="374.3" cy="460.2" rx="6.4" ry="13.4" fill="#e82a22" transform="rotate(-25 374.3 460.2)"/>
<ellipse cx="360.8" cy="491.0" rx="13.4" ry="5.9" fill="#dc3a1e" transform="rotate(-35 360.8 491.0)"/>
<ellipse cx="402.7" cy="478.7" rx="6.9" ry="14.4" fill="#e82a22" transform="rotate(-22 402.7 478.7)"/>
<ellipse cx="428.1" cy="470.8" rx="7.4" ry="15.4" fill="#e82a22" transform="rotate(-15 428.1 470.8)"/>
<ellipse cx="479.9" cy="459.4" rx="11.4" ry="4.4" fill="#e82a22" transform="rotate(10 479.9 459.4)"/>
<ellipse cx="476.7" cy="481.1" rx="16.4" ry="8.9" fill="#e82a22" transform="rotate(0 476.7 481.1)"/>
<ellipse cx="522.6" cy="458.1" rx="4.4" ry="4.4" fill="#4a1410" transform="rotate(0 522.6 458.1)"/>
<ellipse cx="546.2" cy="456.4" rx="9.4" ry="6.4" fill="#e82a22" transform="rotate(30 546.2 456.4)"/>
<ellipse cx="535.2" cy="491.7" rx="9.4" ry="5.9" fill="#dc3a1e" transform="rotate(15 535.2 491.7)"/>
<ellipse cx="558.8" cy="483.3" rx="3.4" ry="6.4" fill="#7a1e16" transform="rotate(20 558.8 483.3)"/>
<ellipse cx="581.4" cy="462.3" rx="5.9" ry="13.9" fill="#e82a22" transform="rotate(20 581.4 462.3)"/>
<ellipse cx="609.2" cy="456.4" rx="15.4" ry="5.4" fill="#e82a22" transform="rotate(38 609.2 456.4)"/>
<ellipse cx="599.9" cy="488.4" rx="13.4" ry="12.4" fill="#7a1e16" transform="rotate(0 599.9 488.4)"/>
<ellipse cx="357.1" cy="591.3" rx="17.4" ry="14.4" fill="#b4302a" transform="rotate(0 357.1 591.3)"/>
<ellipse cx="418.2" cy="596.7" rx="12.4" ry="12.9" fill="#b4302a" transform="rotate(0 418.2 596.7)"/>
<ellipse cx="471.0" cy="590.8" rx="10.4" ry="10.9" fill="#b4302a" transform="rotate(0 471.0 590.8)"/>
<ellipse cx="541.6" cy="585.3" rx="12.9" ry="13.4" fill="#e0521e" transform="rotate(0 541.6 585.3)"/>
<ellipse cx="583.5" cy="590.7" rx="4.9" ry="10.4" fill="#e87424" transform="rotate(10 583.5 590.7)"/>
<ellipse cx="614.5" cy="586.5" rx="5.9" ry="10.9" fill="#f08c28" transform="rotate(-20 614.5 586.5)"/>
<ellipse cx="358.3" cy="655.0" rx="12.9" ry="8.4" fill="#e82a22" transform="rotate(10 358.3 655.0)"/>
<ellipse cx="417.0" cy="655.8" rx="16.4" ry="10.9" fill="#e82a22" transform="rotate(10 417.0 655.8)"/>
<ellipse cx="478.4" cy="654.5" rx="13.9" ry="6.9" fill="#f86a18" transform="rotate(15 478.4 654.5)"/>
<ellipse cx="539.9" cy="654.4" rx="13.4" ry="11.9" fill="#e82a22" transform="rotate(0 539.9 654.4)"/>
<ellipse cx="596.9" cy="655.3" rx="12.4" ry="6.4" fill="#f86a18" transform="rotate(-5 596.9 655.3)"/></g>
<g filter="url(#gblur)"><ellipse cx="531.0" cy="42.7" rx="1.6" ry="1.6" fill="#20c452" transform="rotate(0 531.0 42.7)"/>
<ellipse cx="487.5" cy="60.0" rx="1.2" ry="1.2" fill="#15783a" transform="rotate(0 487.5 60.0)"/>
<ellipse cx="470.0" cy="70.5" rx="3.0" ry="1.0" fill="#15783a" transform="rotate(0 470.0 70.5)"/>
<ellipse cx="523.8" cy="105.2" rx="1.6" ry="1.6" fill="#20c452" transform="rotate(0 523.8 105.2)"/>
<ellipse cx="598.7" cy="94.3" rx="2.6" ry="1.6" fill="#20c452" transform="rotate(0 598.7 94.3)"/>
<ellipse cx="350.0" cy="124.0" rx="1.5" ry="1.0" fill="#15783a" transform="rotate(0 350.0 124.0)"/>
<ellipse cx="431.5" cy="119.5" rx="1.2" ry="1.2" fill="#15783a" transform="rotate(0 431.5 119.5)"/>
<ellipse cx="361.5" cy="158.5" rx="2.0" ry="2.0" fill="#20c452" transform="rotate(0 361.5 158.5)"/>
<ellipse cx="401.0" cy="165.9" rx="2.5" ry="2.5" fill="#20c452" transform="rotate(0 401.0 165.9)"/>
<ellipse cx="476.7" cy="183.9" rx="2.5" ry="2.5" fill="#20c452" transform="rotate(0 476.7 183.9)"/>
<ellipse cx="544.0" cy="159.0" rx="1.8" ry="1.8" fill="#20c452" transform="rotate(0 544.0 159.0)"/>
<ellipse cx="354.5" cy="190.5" rx="1.5" ry="1.5" fill="#15783a" transform="rotate(0 354.5 190.5)"/>
<ellipse cx="359.5" cy="236.2" rx="1.5" ry="1.5" fill="#20c452" transform="rotate(0 359.5 236.2)"/>
<ellipse cx="415.0" cy="230.5" rx="2.2" ry="2.2" fill="#20c452" transform="rotate(0 415.0 230.5)"/>
<ellipse cx="487.0" cy="226.3" rx="2.8" ry="2.8" fill="#20c452" transform="rotate(0 487.0 226.3)"/>
<ellipse cx="542.8" cy="227.4" rx="2.2" ry="2.2" fill="#20c452" transform="rotate(0 542.8 227.4)"/>
<ellipse cx="608.7" cy="240.3" rx="3.0" ry="3.0" fill="#20c452" transform="rotate(0 608.7 240.3)"/>
<ellipse cx="357.1" cy="289.6" rx="3.0" ry="3.0" fill="#20c452" transform="rotate(0 357.1 289.6)"/>
<ellipse cx="418.7" cy="276.8" rx="3.5" ry="2.0" fill="#20c452" transform="rotate(0 418.7 276.8)"/>
<ellipse cx="470.5" cy="288.4" rx="4.0" ry="2.0" fill="#20c452" transform="rotate(0 470.5 288.4)"/>
<ellipse cx="544.0" cy="287.7" rx="2.5" ry="2.5" fill="#20c452" transform="rotate(0 544.0 287.7)"/>
<ellipse cx="597.4" cy="295.3" rx="3.5" ry="2.5" fill="#20c452" transform="rotate(0 597.4 295.3)"/>
<ellipse cx="362.0" cy="353.2" rx="3.0" ry="3.0" fill="#20c452" transform="rotate(0 362.0 353.2)"/>
<ellipse cx="408.4" cy="350.0" rx="3.5" ry="3.5" fill="#20c452" transform="rotate(0 408.4 350.0)"/>
<ellipse cx="474.2" cy="357.4" rx="3.0" ry="3.0" fill="#20c452" transform="rotate(0 474.2 357.4)"/>
<ellipse cx="542.8" cy="355.4" rx="3.0" ry="3.0" fill="#20c452" transform="rotate(0 542.8 355.4)"/>
<ellipse cx="601.6" cy="346.5" rx="3.0" ry="3.0" fill="#20c452" transform="rotate(0 601.6 346.5)"/>
<ellipse cx="354.6" cy="408.4" rx="3.5" ry="3.5" fill="#20c452" transform="rotate(0 354.6 408.4)"/>
<ellipse cx="418.2" cy="414.5" rx="3.0" ry="3.0" fill="#20c452" transform="rotate(0 418.2 414.5)"/>
<ellipse cx="473.0" cy="416.3" rx="3.0" ry="1.5" fill="#15783a" transform="rotate(0 473.0 416.3)"/>
<ellipse cx="532.7" cy="410.2" rx="3.8" ry="3.8" fill="#20c452" transform="rotate(0 532.7 410.2)"/>
<ellipse cx="600.4" cy="414.1" rx="3.0" ry="3.0" fill="#20c452" transform="rotate(0 600.4 414.1)"/>
<ellipse cx="362.0" cy="463.4" rx="2.5" ry="2.5" fill="#15783a" transform="rotate(0 362.0 463.4)"/>
<ellipse cx="422.9" cy="489.8" rx="2.5" ry="2.5" fill="#15783a" transform="rotate(0 422.9 489.8)"/>
<ellipse cx="464.9" cy="468.1" rx="2.5" ry="2.5" fill="#15783a" transform="rotate(0 464.9 468.1)"/>
<ellipse cx="533.6" cy="462.7" rx="3.0" ry="3.0" fill="#1a9a45" transform="rotate(0 533.6 462.7)"/>
<ellipse cx="622.1" cy="480.8" rx="2.5" ry="2.5" fill="#20c452" transform="rotate(0 622.1 480.8)"/>
<ellipse cx="348.4" cy="540.0" rx="5.0" ry="3.0" fill="#1a3a1e" transform="rotate(0 348.4 540.0)"/>
<ellipse cx="362.0" cy="534.5" rx="2.0" ry="2.0" fill="#20c452" transform="rotate(0 362.0 534.5)"/>
<ellipse cx="429.3" cy="542.7" rx="2.5" ry="2.5" fill="#20c452" transform="rotate(0 429.3 542.7)"/>
<ellipse cx="486.6" cy="546.1" rx="3.0" ry="3.0" fill="#15783a" transform="rotate(0 486.6 546.1)"/>
<ellipse cx="544.0" cy="534.8" rx="2.0" ry="2.8" fill="#20c452" transform="rotate(0 544.0 534.8)"/>
<ellipse cx="616.2" cy="526.9" rx="1.7" ry="2.5" fill="#20c452" transform="rotate(0 616.2 526.9)"/>
<ellipse cx="608.7" cy="610.4" rx="1.5" ry="1.5" fill="#15783a" transform="rotate(0 608.7 610.4)"/></g>
</g>
<line x1="387.4" y1="22" x2="387.4" y2="745" stroke="#2a2a2a" stroke-width="0.8"/>
<line x1="447.7" y1="22" x2="447.7" y2="745" stroke="#2a2a2a" stroke-width="0.8"/>
<line x1="508.1" y1="22" x2="508.1" y2="745" stroke="#2a2a2a" stroke-width="0.8"/>
<line x1="568.4" y1="22" x2="568.4" y2="745" stroke="#2a2a2a" stroke-width="0.8"/>
<line x1="327" y1="82.2" x2="628.8" y2="82.2" stroke="#747474" stroke-width="0.9"/>
<line x1="327" y1="142.5" x2="628.8" y2="142.5" stroke="#a4a4a4" stroke-width="0.9"/>
<line x1="327" y1="202.7" x2="628.8" y2="202.7" stroke="#747474" stroke-width="0.9"/>
<line x1="327" y1="263.0" x2="628.8" y2="263.0" stroke="#a4a4a4" stroke-width="0.9"/>
<line x1="327" y1="323.3" x2="628.8" y2="323.3" stroke="#747474" stroke-width="0.9"/>
<line x1="327" y1="383.6" x2="628.8" y2="383.6" stroke="#a4a4a4" stroke-width="0.9"/>
<line x1="327" y1="443.8" x2="628.8" y2="443.8" stroke="#747474" stroke-width="0.9"/>
<line x1="327" y1="504.1" x2="628.8" y2="504.1" stroke="#a4a4a4" stroke-width="0.9"/>
<line x1="327" y1="564.4" x2="628.8" y2="564.4" stroke="#747474" stroke-width="0.9"/>
<line x1="327" y1="624.6" x2="628.8" y2="624.6" stroke="#a4a4a4" stroke-width="0.9"/>
<line x1="327" y1="684.9" x2="628.8" y2="684.9" stroke="#333333" stroke-width="0.9"/>
<line x1="630" y1="141.9" x2="750" y2="141.9" stroke="#9a9a9a" stroke-width="0.9"/>
<line x1="630" y1="263.4" x2="750" y2="263.4" stroke="#2e2e2e" stroke-width="0.9"/>
<line x1="630" y1="504.2" x2="750" y2="504.2" stroke="#999999" stroke-width="0.9"/>
<line x1="630" y1="625.0" x2="750" y2="625.0" stroke="#333333" stroke-width="0.9"/>
<text x="477.6" y="769.8" font-size="22.6" text-anchor="middle" font-family="Liberation Sans, Arial, sans-serif" fill="#000">optical sections</text>
<text x="478" y="792.2" font-size="17.7" text-anchor="middle" font-family="Liberation Sans, Arial, sans-serif" fill="#000">(five example cells per timepoint)</text>
<line x1="569.6" y1="749" x2="628.6" y2="749" stroke="#8c8c8c" stroke-width="1.6"/>
<text x="599" y="768.3" font-size="18" text-anchor="middle" font-family="Liberation Sans, Arial, sans-serif" fill="#808080">4 μm</text>
<text x="691" y="764.5" font-size="22" text-anchor="middle" font-family="Liberation Sans, Arial, sans-serif" fill="#000">3D</text>
<text x="690.5" y="792.3" font-size="22" text-anchor="middle" font-family="Liberation Sans, Arial, sans-serif" fill="#000">rendering</text>
</svg>
</body></html>
